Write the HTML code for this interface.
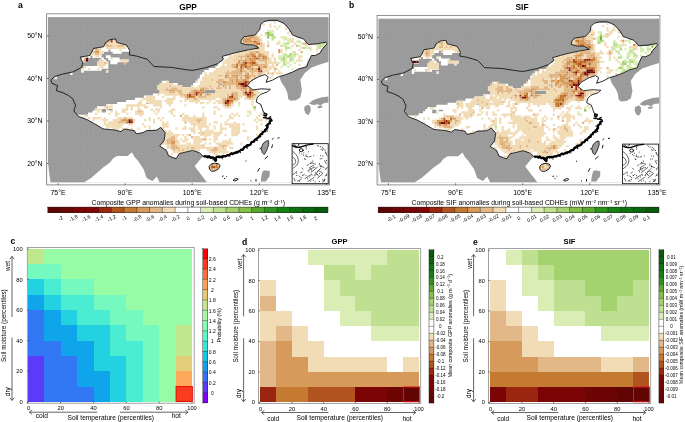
<!DOCTYPE html>
<html><head><meta charset="utf-8"><title>Figure</title>
<style>html,body{margin:0;padding:0;background:#fff;}body{width:685px;height:422px;overflow:hidden;font-family:"Liberation Sans",sans-serif;}svg{display:block;position:absolute;left:0;top:0;will-change:transform;transform:translateZ(0);}</style>
</head><body>
<svg width="685" height="422" viewBox="0 0 685 422" font-family="Liberation Sans, sans-serif" fill="#000">
<defs>
<pattern id="hat" x="47.90" y="17.10" width="4.472" height="4.250" patternUnits="userSpaceOnUse">
<rect width="5" height="5" fill="#9a9a9a"/><path d="M0 0H5M0 0V5" stroke="#a3a3a3" stroke-width="0.6" fill="none"/></pattern>
<clipPath id="cc"><polygon points="50.9,80.1 54.2,76.8 61.9,74.2 72.8,72.0 81.6,67.4 82.7,62.5 80.1,57.1 89.9,55.5 93.6,48.3 103.5,46.8 105.7,42.4 110.1,39.6 115.5,38.9 116.6,42.4 126.5,45.0 129.8,50.5 129.3,54.9 136.3,56.0 147.3,59.3 153.9,66.5 171.4,67.4 182.3,69.1 190.0,70.2 193.8,70.2 206.9,67.4 217.8,63.6 223.3,59.3 222.2,56.4 235.4,52.7 248.5,49.8 258.9,48.0 253.5,44.9 245.6,44.6 240.6,43.0 241.5,39.5 244.1,36.7 255.0,35.1 259.7,29.6 260.5,25.0 263.6,21.8 269.1,20.3 276.9,20.3 284.0,23.4 289.5,29.6 292.6,35.1 303.6,39.0 308.2,44.5 317.6,43.7 326.2,42.2 327.0,43.7 322.3,49.2 320.0,53.1 315.3,55.5 311.4,55.5 308.2,62.5 306.7,66.8 298.9,68.8 292.6,72.0 284.8,75.0 279.2,76.5 272.6,80.1 266.0,82.3 268.2,76.8 264.9,74.6 258.4,76.8 250.7,81.2 247.4,85.5 252.9,89.9 261.6,88.8 270.4,89.3 267.1,92.1 260.5,94.3 257.3,97.6 256.2,102.0 260.8,104.4 263.5,112.0 266.0,114.5 265.0,117.0 270.8,119.6 270.2,121.4 266.5,128.0 262.0,133.5 258.0,137.3 253.5,141.2 248.0,145.8 240.4,150.4 232.7,153.5 225.0,155.8 216.6,157.4 215.5,161.3 213.4,157.4 203.5,156.5 199.1,152.6 192.6,150.4 179.4,153.6 176.1,158.7 168.5,155.8 166.3,150.4 159.7,146.0 164.1,140.5 165.2,132.8 160.8,127.4 156.4,130.2 146.6,130.7 142.9,132.7 136.3,133.8 134.2,130.5 124.3,129.0 121.0,131.6 114.4,129.9 103.5,129.0 94.7,123.9 87.1,119.6 78.3,116.3 73.9,110.8 75.5,105.3 72.8,98.8 68.5,95.5 63.0,92.8 56.4,90.6 57.5,85.5 52.0,83.4"/><polygon points="209.2,166.5 211.0,164.2 214.5,163.2 218.6,163.8 220.0,165.8 218.5,168.8 215.0,171.0 211.5,171.2 209.5,169.3"/></clipPath>
<clipPath id="fr"><rect x="47.9" y="17.1" width="280.7" height="165.3"/></clipPath>
<g id="geo">
<rect x="46.6" y="13.8" width="282.8" height="171.1" fill="#fff" stroke="#7d7d7d" stroke-width="0.85"/>
<rect x="47.9" y="17.1" width="280.7" height="165.3" fill="url(#hat)"/>
<g fill="#fff">
<polygon points="279.2,76.5 281.2,82.0 285.7,88.8 287.5,93.3 288.2,99.0 290.4,100.7 296.0,100.3 300.3,97.6 301.9,90.0 300.3,79.8 304.8,73.0 311.6,67.4 318.3,65.1 328.6,61.8 328.6,182.4 207.0,182.4 199.1,172.1 194.7,166.3 200.6,159.0 203.5,156.5 213.4,157.4 215.5,161.3 216.6,157.4 225.0,155.8 232.7,153.5 240.4,150.4 248.0,145.8 253.5,141.2 258.0,137.3 262.0,133.5 266.5,128.0 270.2,121.4 270.8,119.6 265.0,117.0 266.0,114.5 263.5,112.0 260.8,104.4 256.2,102.0 257.3,97.6 260.5,94.3 267.1,92.1 270.4,89.3 261.6,88.8 252.9,89.9 247.4,85.5 250.7,81.2 258.4,76.8 264.9,74.6 268.2,76.8 266.0,82.3 272.6,80.1"/>
<polygon points="83.8,182.4 91.1,178.0 102.8,167.7 110.0,162.5 113.0,158.4 117.0,156.0 127.6,156.0 132.0,152.3 134.5,157.0 137.8,160.4 143.6,169.2 146.6,178.0 152.4,181.0 156.8,176.5 159.7,182.4"/>
<polygon points="47.9,160.0 49.0,172.0 50.6,182.4 47.9,182.4"/>
</g>
<g fill="#9a9a9a" clip-path="url(#fr)">
<polygon points="309.0,103.6 312.5,100.5 316.0,99.0 322.0,97.2 328.6,96.4 328.6,102.6 323.5,103.2 320.5,105.6 317.5,104.2 314.0,105.0 311.5,104.4"/>
<polygon points="304.6,106.2 308.4,104.8 310.4,106.5 310.8,110.8 308.4,115.2 305.6,113.6 304.2,109.6"/>
<polygon points="317.3,106.3 322.0,105.6 322.4,107.6 318.2,108.4"/>
<polygon points="262.6,171.2 265.0,170.2 269.8,171.0 269.6,176.4 267.4,179.0 266.0,181.4 260.6,181.4 261.4,176.0"/>
<polygon points="266.3,140.9 268.5,140.7 268.7,144.5 266.5,150.8 264.2,154.6 262.3,152.6 261.2,148.3 263.0,143.6" stroke="#111" stroke-width="0.8"/>
</g>
</g>
<g id="line" fill="none" stroke="#000" stroke-linejoin="round">
<polygon points="50.9,80.1 54.2,76.8 61.9,74.2 72.8,72.0 81.6,67.4 82.7,62.5 80.1,57.1 89.9,55.5 93.6,48.3 103.5,46.8 105.7,42.4 110.1,39.6 115.5,38.9 116.6,42.4 126.5,45.0 129.8,50.5 129.3,54.9 136.3,56.0 147.3,59.3 153.9,66.5 171.4,67.4 182.3,69.1 190.0,70.2 193.8,70.2 206.9,67.4 217.8,63.6 223.3,59.3 222.2,56.4 235.4,52.7 248.5,49.8 258.9,48.0 253.5,44.9 245.6,44.6 240.6,43.0 241.5,39.5 244.1,36.7 255.0,35.1 259.7,29.6 260.5,25.0 263.6,21.8 269.1,20.3 276.9,20.3 284.0,23.4 289.5,29.6 292.6,35.1 303.6,39.0 308.2,44.5 317.6,43.7 326.2,42.2 327.0,43.7 322.3,49.2 320.0,53.1 315.3,55.5 311.4,55.5 308.2,62.5 306.7,66.8 298.9,68.8 292.6,72.0 284.8,75.0 279.2,76.5 272.6,80.1 266.0,82.3 268.2,76.8 264.9,74.6 258.4,76.8 250.7,81.2 247.4,85.5 252.9,89.9 261.6,88.8 270.4,89.3 267.1,92.1 260.5,94.3 257.3,97.6 256.2,102.0 260.8,104.4 263.5,112.0 266.0,114.5 265.0,117.0 270.8,119.6 270.2,121.4 266.5,128.0 262.0,133.5 258.0,137.3 253.5,141.2 248.0,145.8 240.4,150.4 232.7,153.5 225.0,155.8 216.6,157.4 215.5,161.3 213.4,157.4 203.5,156.5 199.1,152.6 192.6,150.4 179.4,153.6 176.1,158.7 168.5,155.8 166.3,150.4 159.7,146.0 164.1,140.5 165.2,132.8 160.8,127.4 156.4,130.2 146.6,130.7 142.9,132.7 136.3,133.8 134.2,130.5 124.3,129.0 121.0,131.6 114.4,129.9 103.5,129.0 94.7,123.9 87.1,119.6 78.3,116.3 73.9,110.8 75.5,105.3 72.8,98.8 68.5,95.5 63.0,92.8 56.4,90.6 57.5,85.5 52.0,83.4" stroke-width="0.78"/>
<polygon points="209.2,166.5 211.0,164.2 214.5,163.2 218.6,163.8 220.0,165.8 218.5,168.8 215.0,171.0 211.5,171.2 209.5,169.3" stroke-width="0.9"/>
<path d="M270.5 120.6 L269.7 121.5 L269.8 122.9 L268.8 123.8 L267.6 124.5 L267.0 125.5 L267.7 127.3 L266.9 128.4 L266.4 129.5 L265.1 129.9 L264.9 131.3 L263.6 131.7 L262.5 132.4 L262.3 133.8 L261.0 134.0 L260.3 134.9 L260.2 136.4 L258.7 136.5 L258.3 137.6 L257.2 138.2 L256.5 139.2 L255.1 139.4 L254.5 140.5 L253.9 141.7 L252.5 141.9 L251.3 142.3 L251.0 143.8 L250.2 144.7 L249.1 145.2 L247.6 145.1 L246.6 145.6 L245.9 146.7 L244.8 146.9 L243.9 147.5 L243.4 148.9 L242.7 149.9 L241.2 149.6 L240.4 150.3 L239.4 151.1 L238.4 151.8 L237.2 151.9 L236.0 152.2 L235.1 153.0 L233.9 153.4 L232.7 153.6 L231.4 153.2 L230.5 154.0 L229.5 154.9 L228.4 155.2 L227.2 155.2 L226.3 156.0 L225.1 156.4 L223.8 156.0 L222.7 157.0 L221.4 156.5 L220.2 157.0 L218.9 156.6 L217.7 156.7 L216.3 157.3 L215.9 158.5 L216.1 159.9 L215.8 160.9 L214.6 159.9 L214.4 158.5 L213.6 157.7 L212.5 157.4 L211.3 158.0 L210.2 157.6 L209.2 156.1 L207.9 157.4 L206.9 156.4 L205.8 156.4 L204.7 156.2 L203.5 156.5" stroke-width="2.2"/>
<path d="M270.8 124.0l-0.6 -0.4M265.9 126.0l-0.6 -0.4M266.9 130.9l0.6 0.2M248.2 146.3l-0.4 -0.3M240.3 152.4l-0.0 0.4M237.2 153.6l-0.1 -0.3M232.4 154.7l0.5 0.1M229.9 156.0l-0.6 -0.3M222.2 158.4l0.2 0.5M219.1 158.0l-0.6 -0.4M214.0 158.8l0.5 -0.3M213.4 159.1l-0.6 0.4" stroke-width="1.0" stroke-linecap="round"/>
<path d="M270.6 120.6 L266.5 128.0 L262.0 133.5 L258.0 137.3 L253.5 141.2 L248.0 145.8 L240.4 150.4 L232.7 153.5 L225.0 155.8 L216.6 157.4 L215.5 161.0 L213.6 157.4 L203.5 156.5" stroke-width="1.1"/>
<path d="M264.3 113.2l2.6 .8l-.6 2l-2.4 -.6zM263 117.6l3.4 .4M266.5 118.6l4.6 .2l1 1.8l-2.2 1.4M268.6 117.8l2.6 -1.2M264.5 131.2l1.6 .5M256 139.6l1.6 1M246.6 147l1 1.6M236 152.4l.6 1.4M228.6 155l.4 1.5M221 156.8l-.3 1.4" stroke-width="1.3"/>
<path d="M259.5 149l1.6 -1M272 139.5l1.6 -1.4M277.5 138.2l2 -.5M272.6 144.5l-1 3.6M268 156l-3.4 3M245.5 161h1M259.6 168l-2 3.6M256 181.5v-2.5M251 181.4v-1M222 176.4l1.6 -.5M224 178.2l1 .6M226 176l.8 .6M233 180.3c1.5 -1.6 4 -2.2 5.2 -1.3c-.6 1.6 -3.4 2.6 -5.2 1.3z" stroke-width="0.9"/>
</g>
<g id="inset">
<rect x="292.1" y="143.7" width="36.1" height="40.0" fill="#fff" stroke="#000" stroke-width="0.8"/>
<g fill="none" stroke="#000" stroke-width="0.6" stroke-linecap="round">
<path d="M292.6 145.6c2.4 1.6 5 2.2 8 1.4s5 -2 8.4 -2.4l4 -.6" stroke-width="1.3"/>
<path d="M294 144.6l3 2.4M299 144.2l-1 1.6" stroke-width="0.9"/>
<ellipse cx="301.2" cy="150.2" rx="1.9" ry="1.6" stroke-width="0.9"/>
<path d="M292.8 151.5c2.6 1.6 4.8 4.4 5.4 7.6s-.6 5.4 -2.6 7.2l-2.8 2.2M292.8 157c1.6 1 2.8 2.6 2.9 4.4s-1.2 3 -2.9 3.6M296.5 171.5c-1 1.2 -2 2.4 -3.6 3M294 178.4l1.2 2.6M309.6 167.5l4 -2.2M308 170.5l5.6 -3M311 172.4l6.4 -5.2M314.5 175l6 -6.6M305 178.5l6.6 -4.4M308 181.4l6 -4M317.6 178l5 -4.2M318.6 170.5l4 2.6M315 172.5l3.4 3.2M320.4 166l3.6 1.4M324.6 160.5l1.6 3M325.6 152l1.4 3.4M322 147l2 2.6M317.2 145.4l1.6 1M305.5 156l1.5 .6M309.4 156.8l1.6 -.5M304.5 158.5l.8 .9M310 163.6l2 -.4M307 165.5l1.5 -1M312.6 162.8l1.5 .9M302 168l1 1.2M300.5 172.8l1.6 -.8M299 176l1.4 1M303 175.4l1.4 -1.2M297.5 181l2 -.8M322.6 181.8l2.6 -2M325.4 176l1.4 -2.2M326 169l1.2 -1.6"/>
<path d="M301.3 177.8h.01M300.8 179.5h.01M310.1 168.3h.01M319.3 164.9h.01M303.8 152.9h.01M296.7 173.0h.01M308.6 151.8h.01M323.0 156.0h.01M307.7 156.8h.01M314.8 167.2h.01M313.8 155.7h.01M303.4 155.3h.01M299.5 181.2h.01M325.7 152.9h.01M317.1 174.5h.01M315.1 182.0h.01M302.6 175.3h.01M322.7 179.7h.01M326.4 160.6h.01M320.9 165.9h.01M319.4 163.7h.01M325.8 169.1h.01M320.9 166.7h.01M315.0 175.6h.01M324.6 179.3h.01M321.2 149.4h.01M305.9 147.3h.01M312.0 175.1h.01M306.1 154.9h.01M320.2 158.9h.01M315.1 164.0h.01M313.3 180.3h.01M325.1 150.1h.01M321.8 158.6h.01M310.8 181.1h.01M306.3 146.5h.01M322.4 150.1h.01M309.8 177.0h.01M311.0 162.3h.01M320.4 146.7h.01M312.9 161.0h.01M326.5 175.3h.01M308.9 171.7h.01M305.0 159.1h.01M324.4 180.8h.01M307.5 178.8h.01M311.4 170.1h.01M323.5 181.2h.01M319.4 173.7h.01M317.4 171.6h.01M319.3 181.6h.01M306.3 149.0h.01M301.9 154.1h.01M306.0 175.6h.01M320.8 155.6h.01M296.8 175.5h.01M299.6 153.1h.01" stroke-width="0.9"/>
</g></g>
<g id="mtick" stroke="#333" stroke-width="0.7" fill="none">
<path d="M46.8 36.0h1.8M46.8 78.5h1.8M46.8 121.0h1.8M46.8 163.5h1.8M58.0 184.9v-1.6M125.1 184.9v-1.6M192.2 184.9v-1.6M259.3 184.9v-1.6M326.4 184.9v-1.6"/>
</g>
</defs>
<g id="mapA">
<use href="#geo"/>
<g clip-path="url(#cc)">
<path fill="#fff" d="M262.5 21.2h20.3v2.73h-20.3zM260.2 23.4h24.8v2.73h-24.8zM260.2 25.5h27.0v2.73h-27.0zM260.2 27.6h29.3v2.73h-29.3zM258.0 29.8h31.5v2.73h-31.5zM255.7 31.9h36.0v2.73h-36.0zM253.5 34.0h40.4v2.73h-40.4zM244.6 36.1h53.9v2.73h-53.9zM110.4 38.2h4.7v2.73h-4.7zM242.3 38.2h62.8v2.73h-62.8zM105.9 40.4h11.4v2.73h-11.4zM240.1 40.4h65.0v2.73h-65.0zM105.9 42.5h15.9v2.73h-15.9zM242.3 42.5h65.0v2.73h-65.0zM318.4 42.5h9.1v2.73h-9.1zM103.7 44.6h22.6v2.73h-22.6zM255.7 44.6h69.5v2.73h-69.5zM97.0 46.8h31.5v2.73h-31.5zM258.0 46.8h65.0v2.73h-65.0zM92.5 48.9h15.9v2.73h-15.9zM110.4 48.9h20.3v2.73h-20.3zM246.8 48.9h74.0v2.73h-74.0zM92.5 51.0h11.4v2.73h-11.4zM112.6 51.0h9.1v2.73h-9.1zM237.9 51.0h82.9v2.73h-82.9zM90.3 53.1h11.4v2.73h-11.4zM228.9 53.1h89.6v2.73h-89.6zM83.6 55.2h6.9v2.73h-6.9zM92.5 55.2h9.1v2.73h-9.1zM105.9 55.2h4.7v2.73h-4.7zM222.2 55.2h89.6v2.73h-89.6zM81.3 57.4h6.9v2.73h-6.9zM101.5 57.4h2.4v2.73h-2.4zM108.2 57.4h11.4v2.73h-11.4zM222.2 57.4h87.4v2.73h-87.4zM81.3 59.5h6.9v2.73h-6.9zM99.2 59.5h6.9v2.73h-6.9zM110.4 59.5h18.1v2.73h-18.1zM222.2 59.5h87.4v2.73h-87.4zM97.0 61.6h11.4v2.73h-11.4zM110.4 61.6h6.9v2.73h-6.9zM123.8 61.6h2.4v2.73h-2.4zM217.7 61.6h89.6v2.73h-89.6zM97.0 63.8h11.4v2.73h-11.4zM217.7 63.8h89.6v2.73h-89.6zM83.6 65.9h24.8v2.73h-24.8zM215.5 65.9h89.6v2.73h-89.6zM81.3 68.0h20.3v2.73h-20.3zM208.8 68.0h89.6v2.73h-89.6zM81.3 70.1h2.4v2.73h-2.4zM105.9 70.1h2.4v2.73h-2.4zM204.3 70.1h89.6v2.73h-89.6zM70.2 72.2h2.4v2.73h-2.4zM202.1 72.2h87.4v2.73h-87.4zM199.8 74.4h62.8v2.73h-62.8zM266.9 74.4h15.9v2.73h-15.9zM54.5 76.5h2.4v2.73h-2.4zM199.8 76.5h56.1v2.73h-56.1zM266.9 76.5h9.1v2.73h-9.1zM197.6 78.6h56.1v2.73h-56.1zM266.9 78.6h6.9v2.73h-6.9zM161.8 80.8h6.9v2.73h-6.9zM195.4 80.8h53.9v2.73h-53.9zM159.6 82.9h18.1v2.73h-18.1zM193.1 82.9h27.0v2.73h-27.0zM222.2 82.9h27.0v2.73h-27.0zM157.4 85.0h24.8v2.73h-24.8zM190.9 85.0h58.3v2.73h-58.3zM157.4 87.1h94.1v2.73h-94.1zM159.6 89.2h44.9v2.73h-44.9zM215.5 89.2h53.9v2.73h-53.9zM159.6 91.4h44.9v2.73h-44.9zM215.5 91.4h49.4v2.73h-49.4zM152.9 93.5h107.5v2.73h-107.5zM143.9 95.6h114.2v2.73h-114.2zM135.0 97.8h123.2v2.73h-123.2zM126.1 99.9h129.9v2.73h-129.9zM117.1 102.0h29.3v2.73h-29.3zM148.4 102.0h109.8v2.73h-109.8zM105.9 104.1h154.5v2.73h-154.5zM97.0 106.2h165.7v2.73h-165.7zM94.8 108.4h6.9v2.73h-6.9zM105.9 108.4h2.4v2.73h-2.4zM112.6 108.4h150.0v2.73h-150.0zM92.5 110.5h9.1v2.73h-9.1zM105.9 110.5h156.7v2.73h-156.7zM88.0 112.6h176.8v2.73h-176.8zM76.9 114.8h188.0v2.73h-188.0zM83.6 116.9h183.6v2.73h-183.6zM88.0 119.0h183.6v2.73h-183.6zM92.5 121.1h176.8v2.73h-176.8zM94.8 123.2h174.6v2.73h-174.6zM99.2 125.4h167.9v2.73h-167.9zM103.7 127.5h56.1v2.73h-56.1zM161.8 127.5h105.3v2.73h-105.3zM117.1 129.6h4.7v2.73h-4.7zM135.0 129.6h11.4v2.73h-11.4zM164.1 129.6h100.8v2.73h-100.8zM135.0 131.8h6.9v2.73h-6.9zM164.1 131.8h98.6v2.73h-98.6zM164.1 133.9h96.3v2.73h-96.3zM164.1 136.0h94.1v2.73h-94.1zM164.1 138.1h91.9v2.73h-91.9zM164.1 140.2h89.6v2.73h-89.6zM161.8 142.4h89.6v2.73h-89.6zM159.6 144.5h89.6v2.73h-89.6zM161.8 146.6h82.9v2.73h-82.9zM166.3 148.8h74.0v2.73h-74.0zM166.3 150.9h20.3v2.73h-20.3zM197.6 150.9h38.2v2.73h-38.2zM168.5 153.0h11.4v2.73h-11.4zM199.8 153.0h31.5v2.73h-31.5zM170.8 155.1h6.9v2.73h-6.9zM202.1 155.1h20.3v2.73h-20.3zM213.3 157.2h2.4v2.73h-2.4zM211.0 163.6h9.1v2.73h-9.1zM208.8 165.8h11.4v2.73h-11.4zM208.8 167.9h9.1v2.73h-9.1z"/>
<path fill="#610404" d="M85.91 57.48h2.24v2.25h-2.24zM85.91 59.60h2.24v2.25h-2.24zM258.08 68.10h2.24v2.25h-2.24zM128.40 119.10h2.24v2.25h-2.24zM128.40 121.22h2.24v2.25h-2.24z"/>
<path fill="#6d0505" d="M240.20 82.97h4.47v2.25h-4.47zM244.67 85.10h2.24v2.25h-2.24zM249.14 91.47h2.24v2.25h-2.24z"/>
<path fill="#7b0404" d="M246.90 93.60h2.24v2.25h-2.24zM130.63 121.22h2.24v2.25h-2.24z"/>
<path fill="#840505" d="M110.51 38.35h2.24v2.25h-2.24zM244.67 91.47h2.24v2.25h-2.24zM195.48 93.60h2.24v2.25h-2.24zM226.78 99.97h2.24v2.25h-2.24zM224.54 102.10h2.24v2.25h-2.24z"/>
<path fill="#9a2610" d="M110.51 40.48h2.24v2.25h-2.24zM244.67 61.73h2.24v2.25h-2.24zM260.32 70.22h2.24v2.25h-2.24zM244.67 80.85h2.24v2.25h-2.24zM244.67 82.97h2.24v2.25h-2.24zM242.43 85.10h2.24v2.25h-2.24zM195.48 91.47h2.24v2.25h-2.24zM249.14 93.60h2.24v2.25h-2.24zM231.25 95.72h2.24v2.25h-2.24z"/>
<path fill="#b1541f" d="M253.61 40.48h2.24v2.25h-2.24zM258.08 42.60h2.24v2.25h-2.24zM253.61 55.35h2.24v2.25h-2.24zM255.85 57.48h2.24v2.25h-2.24zM251.38 61.73h4.47v2.25h-4.47zM240.20 65.97h2.24v2.25h-2.24zM244.67 65.97h2.24v2.25h-2.24zM258.08 70.22h2.24v2.25h-2.24zM237.96 82.97h2.24v2.25h-2.24zM249.14 89.35h2.24v2.25h-2.24zM197.71 91.47h2.24v2.25h-2.24zM251.38 91.47h2.24v2.25h-2.24zM188.77 93.60h2.24v2.25h-2.24zM231.25 93.60h2.24v2.25h-2.24zM188.77 95.72h2.24v2.25h-2.24zM229.02 95.72h2.24v2.25h-2.24zM224.54 99.97h2.24v2.25h-2.24zM226.78 102.10h2.24v2.25h-2.24zM130.63 119.10h2.24v2.25h-2.24zM211.13 165.85h4.47v2.25h-4.47z"/>
<path fill="#c57a32" d="M246.90 38.35h2.24v2.25h-2.24zM244.67 40.48h2.24v2.25h-2.24zM255.85 42.60h2.24v2.25h-2.24zM251.38 53.23h2.24v2.25h-2.24zM246.90 55.35h2.24v2.25h-2.24zM251.38 55.35h2.24v2.25h-2.24zM262.56 55.35h2.24v2.25h-2.24zM249.14 57.48h2.24v2.25h-2.24zM253.61 57.48h2.24v2.25h-2.24zM262.56 57.48h2.24v2.25h-2.24zM251.38 59.60h2.24v2.25h-2.24zM242.43 61.73h2.24v2.25h-2.24zM249.14 61.73h2.24v2.25h-2.24zM235.72 63.85h2.24v2.25h-2.24zM240.20 63.85h6.71v2.25h-6.71zM251.38 63.85h2.24v2.25h-2.24zM235.72 65.97h2.24v2.25h-2.24zM258.08 65.97h2.24v2.25h-2.24zM240.20 68.10h2.24v2.25h-2.24zM251.38 68.10h2.24v2.25h-2.24zM240.20 70.22h2.24v2.25h-2.24zM244.67 74.47h2.24v2.25h-2.24zM246.90 76.60h2.24v2.25h-2.24zM242.43 80.85h2.24v2.25h-2.24zM246.90 80.85h2.24v2.25h-2.24zM240.20 85.10h2.24v2.25h-2.24zM246.90 85.10h2.24v2.25h-2.24zM242.43 87.22h2.24v2.25h-2.24zM199.95 89.35h2.24v2.25h-2.24zM202.18 91.47h2.24v2.25h-2.24zM246.90 91.47h2.24v2.25h-2.24zM186.53 93.60h2.24v2.25h-2.24zM199.95 93.60h2.24v2.25h-2.24zM244.67 93.60h2.24v2.25h-2.24zM186.53 95.72h2.24v2.25h-2.24zM191.00 95.72h4.47v2.25h-4.47zM246.90 95.72h4.47v2.25h-4.47zM233.49 97.85h2.24v2.25h-2.24zM229.02 99.97h4.47v2.25h-4.47zM226.78 104.22h2.24v2.25h-2.24zM126.16 121.22h2.24v2.25h-2.24zM215.60 163.72h2.24v2.25h-2.24zM215.60 165.85h2.24v2.25h-2.24z"/>
<path fill="#d69a5a" d="M249.14 36.23h6.71v2.25h-6.71zM242.43 38.35h4.47v2.25h-4.47zM249.14 38.35h2.24v2.25h-2.24zM242.43 40.48h2.24v2.25h-2.24zM246.90 40.48h6.71v2.25h-6.71zM255.85 40.48h2.24v2.25h-2.24zM253.61 42.60h2.24v2.25h-2.24zM255.85 44.73h2.24v2.25h-2.24zM278.21 48.98h2.24v2.25h-2.24zM94.86 51.10h4.47v2.25h-4.47zM255.85 51.10h2.24v2.25h-2.24zM278.21 51.10h2.24v2.25h-2.24zM249.14 53.23h2.24v2.25h-2.24zM253.61 53.23h2.24v2.25h-2.24zM258.08 53.23h4.47v2.25h-4.47zM258.08 55.35h4.47v2.25h-4.47zM264.79 55.35h2.24v2.25h-2.24zM251.38 57.48h2.24v2.25h-2.24zM258.08 57.48h2.24v2.25h-2.24zM264.79 57.48h2.24v2.25h-2.24zM83.68 59.60h2.24v2.25h-2.24zM237.96 59.60h2.24v2.25h-2.24zM242.43 59.60h4.47v2.25h-4.47zM249.14 59.60h2.24v2.25h-2.24zM253.61 59.60h2.24v2.25h-2.24zM237.96 61.73h2.24v2.25h-2.24zM246.90 61.73h2.24v2.25h-2.24zM249.14 63.85h2.24v2.25h-2.24zM253.61 63.85h4.47v2.25h-4.47zM233.49 65.97h2.24v2.25h-2.24zM242.43 65.97h2.24v2.25h-2.24zM246.90 65.97h4.47v2.25h-4.47zM262.56 65.97h4.47v2.25h-4.47zM246.90 68.10h2.24v2.25h-2.24zM255.85 68.10h2.24v2.25h-2.24zM260.32 68.10h2.24v2.25h-2.24zM240.20 72.35h2.24v2.25h-2.24zM246.90 72.35h2.24v2.25h-2.24zM251.38 72.35h2.24v2.25h-2.24zM224.54 74.47h4.47v2.25h-4.47zM231.25 74.47h6.71v2.25h-6.71zM246.90 74.47h2.24v2.25h-2.24zM224.54 76.60h2.24v2.25h-2.24zM235.72 76.60h2.24v2.25h-2.24zM240.20 76.60h2.24v2.25h-2.24zM244.67 76.60h2.24v2.25h-2.24zM231.25 78.72h2.24v2.25h-2.24zM235.72 78.72h2.24v2.25h-2.24zM242.43 78.72h4.47v2.25h-4.47zM222.31 80.85h4.47v2.25h-4.47zM231.25 80.85h2.24v2.25h-2.24zM235.72 80.85h6.71v2.25h-6.71zM246.90 82.97h2.24v2.25h-2.24zM222.31 85.10h2.24v2.25h-2.24zM235.72 85.10h2.24v2.25h-2.24zM202.18 87.22h2.24v2.25h-2.24zM240.20 87.22h2.24v2.25h-2.24zM244.67 87.22h2.24v2.25h-2.24zM249.14 87.22h2.24v2.25h-2.24zM168.64 89.35h2.24v2.25h-2.24zM173.12 89.35h2.24v2.25h-2.24zM193.24 89.35h4.47v2.25h-4.47zM202.18 89.35h2.24v2.25h-2.24zM244.67 89.35h2.24v2.25h-2.24zM251.38 89.35h2.24v2.25h-2.24zM193.24 91.47h2.24v2.25h-2.24zM199.95 91.47h2.24v2.25h-2.24zM242.43 91.47h2.24v2.25h-2.24zM191.00 93.60h4.47v2.25h-4.47zM206.66 93.60h2.24v2.25h-2.24zM251.38 93.60h4.47v2.25h-4.47zM251.38 95.72h2.24v2.25h-2.24zM226.78 97.85h6.71v2.25h-6.71zM229.02 102.10h2.24v2.25h-2.24zM224.54 104.22h2.24v2.25h-2.24zM121.69 119.10h6.71v2.25h-6.71zM166.41 140.35h2.24v2.25h-2.24zM170.88 140.35h4.47v2.25h-4.47zM170.88 142.47h4.47v2.25h-4.47zM175.35 146.72h2.24v2.25h-2.24zM211.13 163.72h2.24v2.25h-2.24zM211.13 167.97h2.24v2.25h-2.24z"/>
<path fill="#e3b888" d="M244.67 36.23h4.47v2.25h-4.47zM255.85 36.23h2.24v2.25h-2.24zM251.38 38.35h8.94v2.25h-8.94zM106.04 40.48h4.47v2.25h-4.47zM258.08 40.48h2.24v2.25h-2.24zM106.04 42.60h2.24v2.25h-2.24zM242.43 42.60h11.18v2.25h-11.18zM260.32 42.60h2.24v2.25h-2.24zM302.80 42.60h4.47v2.25h-4.47zM106.04 44.73h6.71v2.25h-6.71zM117.22 44.73h6.71v2.25h-6.71zM260.32 44.73h2.24v2.25h-2.24zM267.03 44.73h2.24v2.25h-2.24zM296.10 44.73h2.24v2.25h-2.24zM94.86 48.98h4.47v2.25h-4.47zM92.62 51.10h2.24v2.25h-2.24zM249.14 51.10h6.71v2.25h-6.71zM258.08 51.10h2.24v2.25h-2.24zM300.57 51.10h2.24v2.25h-2.24zM94.86 53.23h4.47v2.25h-4.47zM244.67 53.23h4.47v2.25h-4.47zM262.56 53.23h2.24v2.25h-2.24zM237.96 55.35h8.94v2.25h-8.94zM249.14 55.35h2.24v2.25h-2.24zM255.85 55.35h2.24v2.25h-2.24zM83.68 57.48h2.24v2.25h-2.24zM235.72 57.48h2.24v2.25h-2.24zM240.20 57.48h2.24v2.25h-2.24zM244.67 57.48h4.47v2.25h-4.47zM260.32 57.48h2.24v2.25h-2.24zM267.03 57.48h2.24v2.25h-2.24zM233.49 59.60h2.24v2.25h-2.24zM240.20 59.60h2.24v2.25h-2.24zM246.90 59.60h2.24v2.25h-2.24zM258.08 59.60h8.94v2.25h-8.94zM103.80 61.73h2.24v2.25h-2.24zM123.92 61.73h2.24v2.25h-2.24zM235.72 61.73h2.24v2.25h-2.24zM240.20 61.73h2.24v2.25h-2.24zM255.85 61.73h2.24v2.25h-2.24zM264.79 61.73h2.24v2.25h-2.24zM231.25 63.85h4.47v2.25h-4.47zM237.96 63.85h2.24v2.25h-2.24zM246.90 63.85h2.24v2.25h-2.24zM258.08 63.85h8.94v2.25h-8.94zM275.97 63.85h2.24v2.25h-2.24zM231.25 65.97h2.24v2.25h-2.24zM251.38 65.97h2.24v2.25h-2.24zM260.32 65.97h2.24v2.25h-2.24zM235.72 68.10h4.47v2.25h-4.47zM242.43 68.10h2.24v2.25h-2.24zM249.14 68.10h2.24v2.25h-2.24zM253.61 68.10h2.24v2.25h-2.24zM273.74 68.10h2.24v2.25h-2.24zM226.78 70.22h2.24v2.25h-2.24zM231.25 70.22h8.94v2.25h-8.94zM242.43 70.22h4.47v2.25h-4.47zM249.14 70.22h8.94v2.25h-8.94zM224.54 72.35h15.65v2.25h-15.65zM244.67 72.35h2.24v2.25h-2.24zM258.08 72.35h4.47v2.25h-4.47zM267.03 72.35h2.24v2.25h-2.24zM271.50 72.35h2.24v2.25h-2.24zM217.84 74.47h4.47v2.25h-4.47zM237.96 74.47h6.71v2.25h-6.71zM249.14 74.47h6.71v2.25h-6.71zM258.08 74.47h2.24v2.25h-2.24zM226.78 76.60h8.94v2.25h-8.94zM249.14 76.60h2.24v2.25h-2.24zM253.61 76.60h2.24v2.25h-2.24zM211.13 78.72h2.24v2.25h-2.24zM217.84 78.72h6.71v2.25h-6.71zM229.02 78.72h2.24v2.25h-2.24zM233.49 78.72h2.24v2.25h-2.24zM237.96 78.72h4.47v2.25h-4.47zM246.90 78.72h2.24v2.25h-2.24zM251.38 78.72h2.24v2.25h-2.24zM215.60 80.85h6.71v2.25h-6.71zM226.78 80.85h4.47v2.25h-4.47zM233.49 80.85h2.24v2.25h-2.24zM217.84 82.97h2.24v2.25h-2.24zM222.31 82.97h15.65v2.25h-15.65zM168.64 85.10h2.24v2.25h-2.24zM208.89 85.10h2.24v2.25h-2.24zM217.84 85.10h2.24v2.25h-2.24zM224.54 85.10h2.24v2.25h-2.24zM229.02 85.10h2.24v2.25h-2.24zM237.96 85.10h2.24v2.25h-2.24zM166.41 87.22h2.24v2.25h-2.24zM170.88 87.22h6.71v2.25h-6.71zM199.95 87.22h2.24v2.25h-2.24zM204.42 87.22h4.47v2.25h-4.47zM211.13 87.22h2.24v2.25h-2.24zM215.60 87.22h6.71v2.25h-6.71zM224.54 87.22h2.24v2.25h-2.24zM229.02 87.22h2.24v2.25h-2.24zM235.72 87.22h4.47v2.25h-4.47zM246.90 87.22h2.24v2.25h-2.24zM164.17 89.35h4.47v2.25h-4.47zM170.88 89.35h2.24v2.25h-2.24zM175.35 89.35h6.71v2.25h-6.71zM191.00 89.35h2.24v2.25h-2.24zM197.71 89.35h2.24v2.25h-2.24zM240.20 89.35h4.47v2.25h-4.47zM253.61 89.35h2.24v2.25h-2.24zM168.64 91.47h6.71v2.25h-6.71zM177.59 91.47h4.47v2.25h-4.47zM188.77 91.47h4.47v2.25h-4.47zM231.25 91.47h6.71v2.25h-6.71zM179.82 93.60h6.71v2.25h-6.71zM197.71 93.60h2.24v2.25h-2.24zM204.42 93.60h2.24v2.25h-2.24zM208.89 93.60h2.24v2.25h-2.24zM226.78 93.60h2.24v2.25h-2.24zM233.49 93.60h4.47v2.25h-4.47zM242.43 93.60h2.24v2.25h-2.24zM184.30 95.72h2.24v2.25h-2.24zM197.71 95.72h8.94v2.25h-8.94zM226.78 95.72h2.24v2.25h-2.24zM233.49 95.72h4.47v2.25h-4.47zM186.53 97.85h2.24v2.25h-2.24zM193.24 97.85h4.47v2.25h-4.47zM222.31 97.85h4.47v2.25h-4.47zM235.72 97.85h2.24v2.25h-2.24zM249.14 97.85h2.24v2.25h-2.24zM222.31 99.97h2.24v2.25h-2.24zM222.31 102.10h2.24v2.25h-2.24zM231.25 102.10h2.24v2.25h-2.24zM229.02 104.22h2.24v2.25h-2.24zM106.04 106.35h2.24v2.25h-2.24zM137.34 110.60h4.47v2.25h-4.47zM179.82 114.85h2.24v2.25h-2.24zM123.92 116.97h2.24v2.25h-2.24zM119.45 119.10h2.24v2.25h-2.24zM195.48 119.10h6.71v2.25h-6.71zM117.22 121.22h8.94v2.25h-8.94zM184.30 121.22h2.24v2.25h-2.24zM197.71 121.22h2.24v2.25h-2.24zM202.18 131.85h2.24v2.25h-2.24zM188.77 133.97h2.24v2.25h-2.24zM170.88 136.10h4.47v2.25h-4.47zM191.00 136.10h2.24v2.25h-2.24zM166.41 138.22h8.94v2.25h-8.94zM202.18 138.22h4.47v2.25h-4.47zM168.64 140.35h2.24v2.25h-2.24zM175.35 140.35h2.24v2.25h-2.24zM166.41 142.47h4.47v2.25h-4.47zM170.88 144.60h6.71v2.25h-6.71zM202.18 144.60h2.24v2.25h-2.24zM220.07 144.60h6.71v2.25h-6.71zM170.88 146.72h4.47v2.25h-4.47zM177.59 146.72h2.24v2.25h-2.24zM186.53 146.72h2.24v2.25h-2.24zM191.00 146.72h4.47v2.25h-4.47zM213.36 146.72h4.47v2.25h-4.47zM222.31 146.72h2.24v2.25h-2.24zM173.12 148.85h2.24v2.25h-2.24zM177.59 148.85h2.24v2.25h-2.24zM182.06 148.85h2.24v2.25h-2.24zM211.13 148.85h6.71v2.25h-6.71zM213.36 150.97h2.24v2.25h-2.24zM213.36 163.72h2.24v2.25h-2.24zM208.89 165.85h2.24v2.25h-2.24zM217.84 165.85h2.24v2.25h-2.24zM208.89 167.97h2.24v2.25h-2.24zM213.36 167.97h4.47v2.25h-4.47z"/>
<path fill="#f2dcb5" d="M273.74 21.35h2.24v2.25h-2.24zM262.56 23.48h2.24v2.25h-2.24zM269.26 23.48h2.24v2.25h-2.24zM269.26 25.60h2.24v2.25h-2.24zM273.74 25.60h2.24v2.25h-2.24zM284.92 27.73h2.24v2.25h-2.24zM271.50 29.85h2.24v2.25h-2.24zM287.15 31.98h2.24v2.25h-2.24zM253.61 34.10h4.47v2.25h-4.47zM260.32 34.10h2.24v2.25h-2.24zM258.08 36.23h2.24v2.25h-2.24zM112.74 38.35h2.24v2.25h-2.24zM260.32 38.35h2.24v2.25h-2.24zM284.92 38.35h2.24v2.25h-2.24zM289.39 38.35h4.47v2.25h-4.47zM112.74 40.48h2.24v2.25h-2.24zM240.20 40.48h2.24v2.25h-2.24zM260.32 40.48h2.24v2.25h-2.24zM289.39 40.48h4.47v2.25h-4.47zM108.27 42.60h13.42v2.25h-13.42zM262.56 42.60h2.24v2.25h-2.24zM267.03 42.60h2.24v2.25h-2.24zM275.97 42.60h4.47v2.25h-4.47zM293.86 42.60h2.24v2.25h-2.24zM300.57 42.60h2.24v2.25h-2.24zM320.69 42.60h2.24v2.25h-2.24zM103.80 44.73h2.24v2.25h-2.24zM112.74 44.73h4.47v2.25h-4.47zM123.92 44.73h2.24v2.25h-2.24zM258.08 44.73h2.24v2.25h-2.24zM262.56 44.73h2.24v2.25h-2.24zM305.04 44.73h2.24v2.25h-2.24zM316.22 44.73h2.24v2.25h-2.24zM97.09 46.85h4.47v2.25h-4.47zM106.04 46.85h20.12v2.25h-20.12zM258.08 46.85h6.71v2.25h-6.71zM300.57 46.85h2.24v2.25h-2.24zM307.28 46.85h4.47v2.25h-4.47zM92.62 48.98h2.24v2.25h-2.24zM99.33 48.98h2.24v2.25h-2.24zM119.45 48.98h2.24v2.25h-2.24zM246.90 48.98h17.89v2.25h-17.89zM280.44 48.98h2.24v2.25h-2.24zM298.33 48.98h2.24v2.25h-2.24zM316.22 48.98h2.24v2.25h-2.24zM99.33 51.10h4.47v2.25h-4.47zM237.96 51.10h11.18v2.25h-11.18zM260.32 51.10h8.94v2.25h-8.94zM280.44 51.10h2.24v2.25h-2.24zM293.86 51.10h2.24v2.25h-2.24zM90.38 53.23h4.47v2.25h-4.47zM99.33 53.23h2.24v2.25h-2.24zM229.02 53.23h2.24v2.25h-2.24zM233.49 53.23h11.18v2.25h-11.18zM255.85 53.23h2.24v2.25h-2.24zM264.79 53.23h4.47v2.25h-4.47zM271.50 53.23h2.24v2.25h-2.24zM316.22 53.23h2.24v2.25h-2.24zM85.91 55.35h2.24v2.25h-2.24zM94.86 55.35h4.47v2.25h-4.47zM229.02 55.35h8.94v2.25h-8.94zM267.03 55.35h2.24v2.25h-2.24zM271.50 55.35h2.24v2.25h-2.24zM298.33 55.35h4.47v2.25h-4.47zM222.31 57.48h2.24v2.25h-2.24zM226.78 57.48h8.94v2.25h-8.94zM237.96 57.48h2.24v2.25h-2.24zM242.43 57.48h2.24v2.25h-2.24zM269.26 57.48h2.24v2.25h-2.24zM273.74 57.48h2.24v2.25h-2.24zM298.33 57.48h2.24v2.25h-2.24zM99.33 59.60h4.47v2.25h-4.47zM119.45 59.60h8.94v2.25h-8.94zM224.54 59.60h8.94v2.25h-8.94zM235.72 59.60h2.24v2.25h-2.24zM255.85 59.60h2.24v2.25h-2.24zM267.03 59.60h4.47v2.25h-4.47zM273.74 59.60h2.24v2.25h-2.24zM296.10 59.60h4.47v2.25h-4.47zM307.28 59.60h2.24v2.25h-2.24zM97.09 61.73h6.71v2.25h-6.71zM106.04 61.73h2.24v2.25h-2.24zM222.31 61.73h13.42v2.25h-13.42zM258.08 61.73h6.71v2.25h-6.71zM267.03 61.73h11.18v2.25h-11.18zM97.09 63.85h8.94v2.25h-8.94zM222.31 63.85h2.24v2.25h-2.24zM226.78 63.85h4.47v2.25h-4.47zM267.03 63.85h2.24v2.25h-2.24zM271.50 63.85h2.24v2.25h-2.24zM298.33 63.85h2.24v2.25h-2.24zM305.04 63.85h2.24v2.25h-2.24zM83.68 65.97h2.24v2.25h-2.24zM99.33 65.97h4.47v2.25h-4.47zM220.07 65.97h11.18v2.25h-11.18zM237.96 65.97h2.24v2.25h-2.24zM253.61 65.97h4.47v2.25h-4.47zM267.03 65.97h8.94v2.25h-8.94zM81.44 68.10h2.24v2.25h-2.24zM88.15 68.10h2.24v2.25h-2.24zM97.09 68.10h2.24v2.25h-2.24zM215.60 68.10h20.12v2.25h-20.12zM244.67 68.10h2.24v2.25h-2.24zM262.56 68.10h8.94v2.25h-8.94zM275.97 68.10h2.24v2.25h-2.24zM106.04 70.22h2.24v2.25h-2.24zM213.36 70.22h13.42v2.25h-13.42zM229.02 70.22h2.24v2.25h-2.24zM246.90 70.22h2.24v2.25h-2.24zM262.56 70.22h6.71v2.25h-6.71zM273.74 70.22h2.24v2.25h-2.24zM278.21 70.22h2.24v2.25h-2.24zM204.42 72.35h2.24v2.25h-2.24zM208.89 72.35h15.65v2.25h-15.65zM242.43 72.35h2.24v2.25h-2.24zM249.14 72.35h2.24v2.25h-2.24zM253.61 72.35h4.47v2.25h-4.47zM262.56 72.35h2.24v2.25h-2.24zM269.26 72.35h2.24v2.25h-2.24zM275.97 72.35h6.71v2.25h-6.71zM204.42 74.47h13.42v2.25h-13.42zM222.31 74.47h2.24v2.25h-2.24zM229.02 74.47h2.24v2.25h-2.24zM255.85 74.47h2.24v2.25h-2.24zM260.32 74.47h2.24v2.25h-2.24zM202.18 76.60h22.36v2.25h-22.36zM237.96 76.60h2.24v2.25h-2.24zM242.43 76.60h2.24v2.25h-2.24zM251.38 76.60h2.24v2.25h-2.24zM269.26 76.60h2.24v2.25h-2.24zM202.18 78.72h8.94v2.25h-8.94zM213.36 78.72h4.47v2.25h-4.47zM224.54 78.72h4.47v2.25h-4.47zM249.14 78.72h2.24v2.25h-2.24zM166.41 80.85h2.24v2.25h-2.24zM195.48 80.85h2.24v2.25h-2.24zM199.95 80.85h15.65v2.25h-15.65zM159.70 82.97h13.42v2.25h-13.42zM199.95 82.97h17.89v2.25h-17.89zM157.46 85.10h11.18v2.25h-11.18zM170.88 85.10h11.18v2.25h-11.18zM191.00 85.10h2.24v2.25h-2.24zM197.71 85.10h11.18v2.25h-11.18zM211.13 85.10h6.71v2.25h-6.71zM220.07 85.10h2.24v2.25h-2.24zM226.78 85.10h2.24v2.25h-2.24zM231.25 85.10h4.47v2.25h-4.47zM157.46 87.22h8.94v2.25h-8.94zM168.64 87.22h2.24v2.25h-2.24zM177.59 87.22h22.36v2.25h-22.36zM208.89 87.22h2.24v2.25h-2.24zM213.36 87.22h2.24v2.25h-2.24zM222.31 87.22h2.24v2.25h-2.24zM226.78 87.22h2.24v2.25h-2.24zM231.25 87.22h4.47v2.25h-4.47zM159.70 89.35h4.47v2.25h-4.47zM182.06 89.35h8.94v2.25h-8.94zM215.60 89.35h24.60v2.25h-24.60zM246.90 89.35h2.24v2.25h-2.24zM255.85 89.35h2.24v2.25h-2.24zM159.70 91.47h8.94v2.25h-8.94zM175.35 91.47h2.24v2.25h-2.24zM182.06 91.47h6.71v2.25h-6.71zM215.60 91.47h15.65v2.25h-15.65zM237.96 91.47h4.47v2.25h-4.47zM253.61 91.47h6.71v2.25h-6.71zM157.46 93.60h2.24v2.25h-2.24zM164.17 93.60h15.65v2.25h-15.65zM202.18 93.60h2.24v2.25h-2.24zM211.13 93.60h15.65v2.25h-15.65zM229.02 93.60h2.24v2.25h-2.24zM237.96 93.60h4.47v2.25h-4.47zM255.85 93.60h2.24v2.25h-2.24zM146.28 95.72h8.94v2.25h-8.94zM161.94 95.72h2.24v2.25h-2.24zM173.12 95.72h2.24v2.25h-2.24zM179.82 95.72h4.47v2.25h-4.47zM195.48 95.72h2.24v2.25h-2.24zM206.66 95.72h20.12v2.25h-20.12zM237.96 95.72h4.47v2.25h-4.47zM244.67 95.72h2.24v2.25h-2.24zM253.61 95.72h4.47v2.25h-4.47zM141.81 97.85h13.42v2.25h-13.42zM166.41 97.85h8.94v2.25h-8.94zM184.30 97.85h2.24v2.25h-2.24zM188.77 97.85h4.47v2.25h-4.47zM197.71 97.85h17.89v2.25h-17.89zM220.07 97.85h2.24v2.25h-2.24zM237.96 97.85h2.24v2.25h-2.24zM244.67 97.85h4.47v2.25h-4.47zM251.38 97.85h4.47v2.25h-4.47zM139.58 99.97h2.24v2.25h-2.24zM146.28 99.97h15.65v2.25h-15.65zM164.17 99.97h8.94v2.25h-8.94zM179.82 99.97h2.24v2.25h-2.24zM184.30 99.97h2.24v2.25h-2.24zM188.77 99.97h11.18v2.25h-11.18zM208.89 99.97h2.24v2.25h-2.24zM215.60 99.97h6.71v2.25h-6.71zM233.49 99.97h4.47v2.25h-4.47zM251.38 99.97h2.24v2.25h-2.24zM137.34 102.10h4.47v2.25h-4.47zM148.52 102.10h13.42v2.25h-13.42zM166.41 102.10h6.71v2.25h-6.71zM195.48 102.10h2.24v2.25h-2.24zM199.95 102.10h4.47v2.25h-4.47zM206.66 102.10h2.24v2.25h-2.24zM213.36 102.10h2.24v2.25h-2.24zM217.84 102.10h4.47v2.25h-4.47zM237.96 102.10h2.24v2.25h-2.24zM251.38 102.10h2.24v2.25h-2.24zM106.04 104.22h2.24v2.25h-2.24zM110.51 104.22h2.24v2.25h-2.24zM126.16 104.22h20.12v2.25h-20.12zM152.99 104.22h8.94v2.25h-8.94zM168.64 104.22h2.24v2.25h-2.24zM184.30 104.22h2.24v2.25h-2.24zM222.31 104.22h2.24v2.25h-2.24zM231.25 104.22h2.24v2.25h-2.24zM251.38 104.22h2.24v2.25h-2.24zM103.80 106.35h2.24v2.25h-2.24zM108.27 106.35h4.47v2.25h-4.47zM126.16 106.35h2.24v2.25h-2.24zM130.63 106.35h2.24v2.25h-2.24zM137.34 106.35h2.24v2.25h-2.24zM144.05 106.35h4.47v2.25h-4.47zM159.70 106.35h2.24v2.25h-2.24zM202.18 106.35h2.24v2.25h-2.24zM213.36 106.35h4.47v2.25h-4.47zM224.54 106.35h6.71v2.25h-6.71zM94.86 108.47h6.71v2.25h-6.71zM106.04 108.47h2.24v2.25h-2.24zM121.69 108.47h6.71v2.25h-6.71zM130.63 108.47h2.24v2.25h-2.24zM137.34 108.47h4.47v2.25h-4.47zM150.76 108.47h2.24v2.25h-2.24zM155.23 108.47h4.47v2.25h-4.47zM170.88 108.47h4.47v2.25h-4.47zM217.84 108.47h2.24v2.25h-2.24zM253.61 108.47h2.24v2.25h-2.24zM97.09 110.60h2.24v2.25h-2.24zM110.51 110.60h2.24v2.25h-2.24zM114.98 110.60h2.24v2.25h-2.24zM121.69 110.60h4.47v2.25h-4.47zM135.10 110.60h2.24v2.25h-2.24zM141.81 110.60h2.24v2.25h-2.24zM152.99 110.60h2.24v2.25h-2.24zM157.46 110.60h2.24v2.25h-2.24zM168.64 110.60h4.47v2.25h-4.47zM213.36 110.60h2.24v2.25h-2.24zM246.90 110.60h4.47v2.25h-4.47zM94.86 112.72h2.24v2.25h-2.24zM108.27 112.72h2.24v2.25h-2.24zM114.98 112.72h4.47v2.25h-4.47zM126.16 112.72h2.24v2.25h-2.24zM135.10 112.72h8.94v2.25h-8.94zM155.23 112.72h2.24v2.25h-2.24zM170.88 112.72h2.24v2.25h-2.24zM182.06 112.72h2.24v2.25h-2.24zM202.18 112.72h2.24v2.25h-2.24zM213.36 112.72h2.24v2.25h-2.24zM231.25 112.72h2.24v2.25h-2.24zM235.72 112.72h2.24v2.25h-2.24zM260.32 112.72h2.24v2.25h-2.24zM76.97 114.85h2.24v2.25h-2.24zM83.68 114.85h4.47v2.25h-4.47zM114.98 114.85h2.24v2.25h-2.24zM139.58 114.85h2.24v2.25h-2.24zM173.12 114.85h2.24v2.25h-2.24zM184.30 114.85h4.47v2.25h-4.47zM193.24 114.85h2.24v2.25h-2.24zM202.18 114.85h2.24v2.25h-2.24zM220.07 114.85h2.24v2.25h-2.24zM229.02 114.85h2.24v2.25h-2.24zM233.49 114.85h2.24v2.25h-2.24zM237.96 114.85h2.24v2.25h-2.24zM258.08 114.85h2.24v2.25h-2.24zM262.56 114.85h2.24v2.25h-2.24zM88.15 116.97h2.24v2.25h-2.24zM92.62 116.97h8.94v2.25h-8.94zM103.80 116.97h2.24v2.25h-2.24zM117.22 116.97h6.71v2.25h-6.71zM126.16 116.97h6.71v2.25h-6.71zM148.52 116.97h2.24v2.25h-2.24zM157.46 116.97h2.24v2.25h-2.24zM161.94 116.97h2.24v2.25h-2.24zM182.06 116.97h24.60v2.25h-24.60zM229.02 116.97h4.47v2.25h-4.47zM255.85 116.97h2.24v2.25h-2.24zM92.62 119.10h2.24v2.25h-2.24zM101.56 119.10h6.71v2.25h-6.71zM112.74 119.10h6.71v2.25h-6.71zM132.87 119.10h2.24v2.25h-2.24zM144.05 119.10h2.24v2.25h-2.24zM152.99 119.10h2.24v2.25h-2.24zM159.70 119.10h2.24v2.25h-2.24zM182.06 119.10h13.42v2.25h-13.42zM202.18 119.10h4.47v2.25h-4.47zM226.78 119.10h2.24v2.25h-2.24zM253.61 119.10h2.24v2.25h-2.24zM258.08 119.10h4.47v2.25h-4.47zM264.79 119.10h2.24v2.25h-2.24zM103.80 121.22h2.24v2.25h-2.24zM108.27 121.22h8.94v2.25h-8.94zM132.87 121.22h2.24v2.25h-2.24zM152.99 121.22h2.24v2.25h-2.24zM161.94 121.22h2.24v2.25h-2.24zM166.41 121.22h2.24v2.25h-2.24zM188.77 121.22h8.94v2.25h-8.94zM199.95 121.22h6.71v2.25h-6.71zM213.36 121.22h4.47v2.25h-4.47zM224.54 121.22h2.24v2.25h-2.24zM233.49 121.22h2.24v2.25h-2.24zM94.86 123.35h2.24v2.25h-2.24zM103.80 123.35h20.12v2.25h-20.12zM128.40 123.35h4.47v2.25h-4.47zM141.81 123.35h2.24v2.25h-2.24zM161.94 123.35h6.71v2.25h-6.71zM191.00 123.35h15.65v2.25h-15.65zM208.89 123.35h2.24v2.25h-2.24zM220.07 123.35h2.24v2.25h-2.24zM224.54 123.35h15.65v2.25h-15.65zM242.43 123.35h2.24v2.25h-2.24zM260.32 123.35h2.24v2.25h-2.24zM106.04 125.47h15.65v2.25h-15.65zM144.05 125.47h2.24v2.25h-2.24zM148.52 125.47h2.24v2.25h-2.24zM161.94 125.47h6.71v2.25h-6.71zM184.30 125.47h2.24v2.25h-2.24zM193.24 125.47h2.24v2.25h-2.24zM197.71 125.47h11.18v2.25h-11.18zM213.36 125.47h2.24v2.25h-2.24zM220.07 125.47h2.24v2.25h-2.24zM229.02 125.47h11.18v2.25h-11.18zM255.85 125.47h2.24v2.25h-2.24zM106.04 127.60h2.24v2.25h-2.24zM112.74 127.60h6.71v2.25h-6.71zM121.69 127.60h2.24v2.25h-2.24zM126.16 127.60h2.24v2.25h-2.24zM130.63 127.60h2.24v2.25h-2.24zM137.34 127.60h2.24v2.25h-2.24zM148.52 127.60h2.24v2.25h-2.24zM161.94 127.60h2.24v2.25h-2.24zM175.35 127.60h2.24v2.25h-2.24zM182.06 127.60h4.47v2.25h-4.47zM188.77 127.60h6.71v2.25h-6.71zM197.71 127.60h4.47v2.25h-4.47zM206.66 127.60h2.24v2.25h-2.24zM213.36 127.60h2.24v2.25h-2.24zM220.07 127.60h6.71v2.25h-6.71zM231.25 127.60h8.94v2.25h-8.94zM255.85 127.60h2.24v2.25h-2.24zM164.17 129.72h2.24v2.25h-2.24zM168.64 129.72h2.24v2.25h-2.24zM191.00 129.72h4.47v2.25h-4.47zM199.95 129.72h2.24v2.25h-2.24zM204.42 129.72h8.94v2.25h-8.94zM220.07 129.72h2.24v2.25h-2.24zM231.25 129.72h8.94v2.25h-8.94zM242.43 129.72h4.47v2.25h-4.47zM260.32 129.72h2.24v2.25h-2.24zM164.17 131.85h8.94v2.25h-8.94zM193.24 131.85h2.24v2.25h-2.24zM197.71 131.85h4.47v2.25h-4.47zM204.42 131.85h17.89v2.25h-17.89zM231.25 131.85h8.94v2.25h-8.94zM164.17 133.97h15.65v2.25h-15.65zM182.06 133.97h2.24v2.25h-2.24zM186.53 133.97h2.24v2.25h-2.24zM199.95 133.97h11.18v2.25h-11.18zM213.36 133.97h6.71v2.25h-6.71zM224.54 133.97h2.24v2.25h-2.24zM231.25 133.97h6.71v2.25h-6.71zM255.85 133.97h4.47v2.25h-4.47zM164.17 136.10h6.71v2.25h-6.71zM175.35 136.10h2.24v2.25h-2.24zM184.30 136.10h2.24v2.25h-2.24zM193.24 136.10h6.71v2.25h-6.71zM204.42 136.10h2.24v2.25h-2.24zM213.36 136.10h4.47v2.25h-4.47zM246.90 136.10h2.24v2.25h-2.24zM164.17 138.22h2.24v2.25h-2.24zM175.35 138.22h2.24v2.25h-2.24zM179.82 138.22h2.24v2.25h-2.24zM184.30 138.22h4.47v2.25h-4.47zM193.24 138.22h8.94v2.25h-8.94zM208.89 138.22h2.24v2.25h-2.24zM213.36 138.22h4.47v2.25h-4.47zM229.02 138.22h2.24v2.25h-2.24zM246.90 138.22h2.24v2.25h-2.24zM164.17 140.35h2.24v2.25h-2.24zM177.59 140.35h2.24v2.25h-2.24zM182.06 140.35h4.47v2.25h-4.47zM193.24 140.35h8.94v2.25h-8.94zM213.36 140.35h2.24v2.25h-2.24zM222.31 140.35h8.94v2.25h-8.94zM161.94 142.47h4.47v2.25h-4.47zM175.35 142.47h4.47v2.25h-4.47zM186.53 142.47h4.47v2.25h-4.47zM193.24 142.47h6.71v2.25h-6.71zM204.42 142.47h2.24v2.25h-2.24zM208.89 142.47h2.24v2.25h-2.24zM215.60 142.47h17.89v2.25h-17.89zM240.20 142.47h2.24v2.25h-2.24zM166.41 144.60h4.47v2.25h-4.47zM177.59 144.60h24.60v2.25h-24.60zM217.84 144.60h2.24v2.25h-2.24zM226.78 144.60h2.24v2.25h-2.24zM161.94 146.72h2.24v2.25h-2.24zM166.41 146.72h4.47v2.25h-4.47zM179.82 146.72h6.71v2.25h-6.71zM188.77 146.72h2.24v2.25h-2.24zM195.48 146.72h17.89v2.25h-17.89zM217.84 146.72h4.47v2.25h-4.47zM224.54 146.72h2.24v2.25h-2.24zM229.02 146.72h4.47v2.25h-4.47zM170.88 148.85h2.24v2.25h-2.24zM175.35 148.85h2.24v2.25h-2.24zM179.82 148.85h2.24v2.25h-2.24zM184.30 148.85h15.65v2.25h-15.65zM206.66 148.85h4.47v2.25h-4.47zM217.84 148.85h8.94v2.25h-8.94zM166.41 150.97h2.24v2.25h-2.24zM173.12 150.97h13.42v2.25h-13.42zM208.89 150.97h4.47v2.25h-4.47zM215.60 150.97h13.42v2.25h-13.42zM233.49 150.97h2.24v2.25h-2.24zM170.88 153.10h2.24v2.25h-2.24zM177.59 153.10h2.24v2.25h-2.24zM213.36 153.10h4.47v2.25h-4.47zM222.31 153.10h2.24v2.25h-2.24zM229.02 153.10h2.24v2.25h-2.24zM206.66 155.22h2.24v2.25h-2.24zM215.60 155.22h4.47v2.25h-4.47zM213.36 157.35h2.24v2.25h-2.24zM217.84 163.72h2.24v2.25h-2.24z"/>
<path fill="#d9edb4" d="M278.21 25.60h2.24v2.25h-2.24zM275.97 27.73h2.24v2.25h-2.24zM267.03 29.85h4.47v2.25h-4.47zM271.50 31.98h2.24v2.25h-2.24zM264.79 34.10h2.24v2.25h-2.24zM280.44 36.23h6.71v2.25h-6.71zM296.10 36.23h2.24v2.25h-2.24zM282.68 38.35h2.24v2.25h-2.24zM287.15 38.35h2.24v2.25h-2.24zM267.03 40.48h2.24v2.25h-2.24zM278.21 40.48h2.24v2.25h-2.24zM287.15 40.48h2.24v2.25h-2.24zM296.10 40.48h2.24v2.25h-2.24zM282.68 42.60h2.24v2.25h-2.24zM282.68 44.73h4.47v2.25h-4.47zM291.62 44.73h2.24v2.25h-2.24zM298.33 44.73h2.24v2.25h-2.24zM322.93 44.73h2.24v2.25h-2.24zM289.39 46.85h2.24v2.25h-2.24zM305.04 46.85h2.24v2.25h-2.24zM316.22 46.85h2.24v2.25h-2.24zM284.92 48.98h2.24v2.25h-2.24zM309.51 48.98h2.24v2.25h-2.24zM291.62 51.10h2.24v2.25h-2.24zM282.68 53.23h2.24v2.25h-2.24zM291.62 53.23h2.24v2.25h-2.24zM296.10 53.23h2.24v2.25h-2.24zM278.21 55.35h4.47v2.25h-4.47zM284.92 55.35h2.24v2.25h-2.24zM291.62 55.35h4.47v2.25h-4.47zM110.51 57.48h2.24v2.25h-2.24zM278.21 57.48h2.24v2.25h-2.24zM284.92 57.48h2.24v2.25h-2.24zM280.44 59.60h2.24v2.25h-2.24zM284.92 59.60h2.24v2.25h-2.24zM291.62 59.60h2.24v2.25h-2.24zM300.57 59.60h2.24v2.25h-2.24zM278.21 61.73h2.24v2.25h-2.24zM284.92 61.73h4.47v2.25h-4.47zM293.86 61.73h2.24v2.25h-2.24zM284.92 63.85h2.24v2.25h-2.24zM289.39 63.85h2.24v2.25h-2.24zM280.44 65.97h2.24v2.25h-2.24zM287.15 65.97h2.24v2.25h-2.24zM291.62 68.10h2.24v2.25h-2.24zM271.50 74.47h2.24v2.25h-2.24zM237.96 104.22h2.24v2.25h-2.24zM249.14 112.72h2.24v2.25h-2.24zM246.90 114.85h2.24v2.25h-2.24zM148.52 119.10h2.24v2.25h-2.24zM255.85 121.22h2.24v2.25h-2.24z"/>
<path fill="#bfe090" d="M264.79 31.98h2.24v2.25h-2.24zM269.26 31.98h2.24v2.25h-2.24zM271.50 36.23h4.47v2.25h-4.47zM271.50 38.35h2.24v2.25h-2.24zM298.33 40.48h2.24v2.25h-2.24zM284.92 42.60h4.47v2.25h-4.47zM322.93 42.60h2.24v2.25h-2.24zM280.44 44.73h2.24v2.25h-2.24zM318.46 44.73h4.47v2.25h-4.47zM284.92 46.85h4.47v2.25h-4.47zM302.80 46.85h2.24v2.25h-2.24zM318.46 46.85h2.24v2.25h-2.24zM284.92 53.23h2.24v2.25h-2.24zM293.86 53.23h2.24v2.25h-2.24zM282.68 55.35h2.24v2.25h-2.24zM289.39 55.35h2.24v2.25h-2.24zM280.44 57.48h2.24v2.25h-2.24zM289.39 57.48h4.47v2.25h-4.47zM282.68 59.60h2.24v2.25h-2.24zM289.39 59.60h2.24v2.25h-2.24zM282.68 61.73h2.24v2.25h-2.24zM282.68 63.85h2.24v2.25h-2.24z"/>
<path fill="#a3d26e" d="M267.03 34.10h6.71v2.25h-6.71zM318.46 42.60h2.24v2.25h-2.24zM289.39 53.23h2.24v2.25h-2.24zM287.15 55.35h2.24v2.25h-2.24zM282.68 57.48h2.24v2.25h-2.24z"/>
<path fill="#84c048" d="M267.03 31.98h2.24v2.25h-2.24zM267.03 36.23h2.24v2.25h-2.24zM253.61 106.35h2.24v2.25h-2.24z"/>
</g>
<use href="#line"/><use href="#inset"/><use href="#mtick"/>
</g>
<g id="mapB" transform="translate(330.5 1.73) scale(1 0.9907)">
<use href="#geo"/>
<g clip-path="url(#cc)">
<path fill="#fff" d="M262.5 21.2h20.3v2.73h-20.3zM260.2 23.4h24.8v2.73h-24.8zM260.2 25.5h27.0v2.73h-27.0zM260.2 27.6h29.3v2.73h-29.3zM258.0 29.8h31.5v2.73h-31.5zM255.7 31.9h36.0v2.73h-36.0zM253.5 34.0h40.4v2.73h-40.4zM244.6 36.1h53.9v2.73h-53.9zM110.4 38.2h4.7v2.73h-4.7zM242.3 38.2h62.8v2.73h-62.8zM105.9 40.4h11.4v2.73h-11.4zM240.1 40.4h65.0v2.73h-65.0zM105.9 42.5h15.9v2.73h-15.9zM242.3 42.5h65.0v2.73h-65.0zM318.4 42.5h9.1v2.73h-9.1zM103.7 44.6h22.6v2.73h-22.6zM255.7 44.6h69.5v2.73h-69.5zM97.0 46.8h31.5v2.73h-31.5zM258.0 46.8h65.0v2.73h-65.0zM92.5 48.9h15.9v2.73h-15.9zM110.4 48.9h20.3v2.73h-20.3zM246.8 48.9h74.0v2.73h-74.0zM92.5 51.0h11.4v2.73h-11.4zM112.6 51.0h9.1v2.73h-9.1zM237.9 51.0h82.9v2.73h-82.9zM90.3 53.1h11.4v2.73h-11.4zM228.9 53.1h89.6v2.73h-89.6zM83.6 55.2h6.9v2.73h-6.9zM92.5 55.2h9.1v2.73h-9.1zM105.9 55.2h4.7v2.73h-4.7zM222.2 55.2h89.6v2.73h-89.6zM81.3 57.4h6.9v2.73h-6.9zM101.5 57.4h2.4v2.73h-2.4zM108.2 57.4h11.4v2.73h-11.4zM222.2 57.4h87.4v2.73h-87.4zM81.3 59.5h6.9v2.73h-6.9zM99.2 59.5h6.9v2.73h-6.9zM110.4 59.5h18.1v2.73h-18.1zM222.2 59.5h87.4v2.73h-87.4zM97.0 61.6h11.4v2.73h-11.4zM110.4 61.6h6.9v2.73h-6.9zM123.8 61.6h2.4v2.73h-2.4zM217.7 61.6h89.6v2.73h-89.6zM97.0 63.8h11.4v2.73h-11.4zM217.7 63.8h89.6v2.73h-89.6zM83.6 65.9h24.8v2.73h-24.8zM215.5 65.9h89.6v2.73h-89.6zM81.3 68.0h20.3v2.73h-20.3zM208.8 68.0h89.6v2.73h-89.6zM81.3 70.1h2.4v2.73h-2.4zM105.9 70.1h2.4v2.73h-2.4zM204.3 70.1h89.6v2.73h-89.6zM70.2 72.2h2.4v2.73h-2.4zM202.1 72.2h87.4v2.73h-87.4zM199.8 74.4h62.8v2.73h-62.8zM266.9 74.4h15.9v2.73h-15.9zM54.5 76.5h2.4v2.73h-2.4zM199.8 76.5h56.1v2.73h-56.1zM266.9 76.5h9.1v2.73h-9.1zM197.6 78.6h56.1v2.73h-56.1zM266.9 78.6h6.9v2.73h-6.9zM161.8 80.8h6.9v2.73h-6.9zM195.4 80.8h53.9v2.73h-53.9zM159.6 82.9h18.1v2.73h-18.1zM193.1 82.9h27.0v2.73h-27.0zM222.2 82.9h27.0v2.73h-27.0zM157.4 85.0h24.8v2.73h-24.8zM190.9 85.0h58.3v2.73h-58.3zM157.4 87.1h94.1v2.73h-94.1zM159.6 89.2h44.9v2.73h-44.9zM215.5 89.2h53.9v2.73h-53.9zM159.6 91.4h44.9v2.73h-44.9zM215.5 91.4h49.4v2.73h-49.4zM152.9 93.5h107.5v2.73h-107.5zM143.9 95.6h114.2v2.73h-114.2zM135.0 97.8h123.2v2.73h-123.2zM126.1 99.9h129.9v2.73h-129.9zM117.1 102.0h29.3v2.73h-29.3zM148.4 102.0h109.8v2.73h-109.8zM105.9 104.1h154.5v2.73h-154.5zM97.0 106.2h165.7v2.73h-165.7zM94.8 108.4h6.9v2.73h-6.9zM105.9 108.4h2.4v2.73h-2.4zM112.6 108.4h150.0v2.73h-150.0zM92.5 110.5h9.1v2.73h-9.1zM105.9 110.5h156.7v2.73h-156.7zM88.0 112.6h176.8v2.73h-176.8zM76.9 114.8h188.0v2.73h-188.0zM83.6 116.9h183.6v2.73h-183.6zM88.0 119.0h183.6v2.73h-183.6zM92.5 121.1h176.8v2.73h-176.8zM94.8 123.2h174.6v2.73h-174.6zM99.2 125.4h167.9v2.73h-167.9zM103.7 127.5h56.1v2.73h-56.1zM161.8 127.5h105.3v2.73h-105.3zM117.1 129.6h4.7v2.73h-4.7zM135.0 129.6h11.4v2.73h-11.4zM164.1 129.6h100.8v2.73h-100.8zM135.0 131.8h6.9v2.73h-6.9zM164.1 131.8h98.6v2.73h-98.6zM164.1 133.9h96.3v2.73h-96.3zM164.1 136.0h94.1v2.73h-94.1zM164.1 138.1h91.9v2.73h-91.9zM164.1 140.2h89.6v2.73h-89.6zM161.8 142.4h89.6v2.73h-89.6zM159.6 144.5h89.6v2.73h-89.6zM161.8 146.6h82.9v2.73h-82.9zM166.3 148.8h74.0v2.73h-74.0zM166.3 150.9h20.3v2.73h-20.3zM197.6 150.9h38.2v2.73h-38.2zM168.5 153.0h11.4v2.73h-11.4zM199.8 153.0h31.5v2.73h-31.5zM170.8 155.1h6.9v2.73h-6.9zM202.1 155.1h20.3v2.73h-20.3zM213.3 157.2h2.4v2.73h-2.4zM211.0 163.6h9.1v2.73h-9.1zM208.8 165.8h11.4v2.73h-11.4zM208.8 167.9h9.1v2.73h-9.1z"/>
<path fill="#610404" d="M81.44 59.60h4.47v2.25h-4.47zM255.85 68.10h2.24v2.25h-2.24zM255.85 70.22h4.47v2.25h-4.47zM246.90 82.97h2.24v2.25h-2.24z"/>
<path fill="#6d0505" d="M85.91 59.60h2.24v2.25h-2.24zM258.08 68.10h4.47v2.25h-4.47zM262.56 70.22h2.24v2.25h-2.24zM244.67 82.97h2.24v2.25h-2.24zM112.74 121.22h2.24v2.25h-2.24z"/>
<path fill="#7b0404" d="M255.85 72.35h2.24v2.25h-2.24zM246.90 80.85h2.24v2.25h-2.24zM244.67 87.22h2.24v2.25h-2.24zM246.90 93.60h4.47v2.25h-4.47zM191.00 95.72h2.24v2.25h-2.24zM110.51 121.22h2.24v2.25h-2.24z"/>
<path fill="#840505" d="M255.85 57.48h2.24v2.25h-2.24zM251.38 63.85h2.24v2.25h-2.24zM237.96 68.10h2.24v2.25h-2.24zM244.67 70.22h2.24v2.25h-2.24zM253.61 70.22h2.24v2.25h-2.24zM260.32 70.22h2.24v2.25h-2.24zM253.61 72.35h2.24v2.25h-2.24zM246.90 78.72h2.24v2.25h-2.24zM242.43 82.97h2.24v2.25h-2.24zM240.20 85.10h2.24v2.25h-2.24zM249.14 91.47h4.47v2.25h-4.47zM193.24 95.72h2.24v2.25h-2.24z"/>
<path fill="#9a2610" d="M253.61 57.48h2.24v2.25h-2.24zM258.08 57.48h2.24v2.25h-2.24zM253.61 63.85h2.24v2.25h-2.24zM237.96 65.97h2.24v2.25h-2.24zM237.96 78.72h2.24v2.25h-2.24zM244.67 85.10h2.24v2.25h-2.24zM188.77 93.60h2.24v2.25h-2.24zM244.67 93.60h2.24v2.25h-2.24zM229.02 102.10h2.24v2.25h-2.24zM114.98 119.10h2.24v2.25h-2.24zM117.22 121.22h2.24v2.25h-2.24z"/>
<path fill="#b1541f" d="M258.08 44.73h2.24v2.25h-2.24zM242.43 57.48h2.24v2.25h-2.24zM242.43 59.60h4.47v2.25h-4.47zM249.14 59.60h2.24v2.25h-2.24zM253.61 59.60h2.24v2.25h-2.24zM246.90 61.73h4.47v2.25h-4.47zM258.08 61.73h2.24v2.25h-2.24zM246.90 63.85h2.24v2.25h-2.24zM235.72 65.97h2.24v2.25h-2.24zM262.56 68.10h2.24v2.25h-2.24zM242.43 70.22h2.24v2.25h-2.24zM244.67 72.35h2.24v2.25h-2.24zM249.14 74.47h2.24v2.25h-2.24zM246.90 76.60h2.24v2.25h-2.24zM240.20 78.72h2.24v2.25h-2.24zM242.43 80.85h2.24v2.25h-2.24zM193.24 93.60h2.24v2.25h-2.24zM199.95 93.60h2.24v2.25h-2.24zM233.49 93.60h2.24v2.25h-2.24zM231.25 97.85h2.24v2.25h-2.24zM226.78 104.22h2.24v2.25h-2.24zM112.74 116.97h2.24v2.25h-2.24zM119.45 116.97h2.24v2.25h-2.24zM112.74 119.10h2.24v2.25h-2.24zM108.27 121.22h2.24v2.25h-2.24zM114.98 121.22h2.24v2.25h-2.24z"/>
<path fill="#c57a32" d="M244.67 38.35h4.47v2.25h-4.47zM246.90 40.48h2.24v2.25h-2.24zM249.14 42.60h4.47v2.25h-4.47zM302.80 42.60h2.24v2.25h-2.24zM255.85 44.73h2.24v2.25h-2.24zM94.86 51.10h2.24v2.25h-2.24zM246.90 53.23h2.24v2.25h-2.24zM244.67 55.35h2.24v2.25h-2.24zM262.56 55.35h2.24v2.25h-2.24zM260.32 57.48h4.47v2.25h-4.47zM246.90 59.60h2.24v2.25h-2.24zM251.38 59.60h2.24v2.25h-2.24zM244.67 61.73h2.24v2.25h-2.24zM242.43 63.85h2.24v2.25h-2.24zM249.14 63.85h2.24v2.25h-2.24zM242.43 65.97h2.24v2.25h-2.24zM249.14 65.97h2.24v2.25h-2.24zM253.61 65.97h11.18v2.25h-11.18zM244.67 68.10h4.47v2.25h-4.47zM235.72 70.22h2.24v2.25h-2.24zM246.90 70.22h2.24v2.25h-2.24zM251.38 70.22h2.24v2.25h-2.24zM249.14 72.35h4.47v2.25h-4.47zM255.85 74.47h2.24v2.25h-2.24zM235.72 76.60h2.24v2.25h-2.24zM249.14 76.60h2.24v2.25h-2.24zM226.78 78.72h2.24v2.25h-2.24zM249.14 78.72h2.24v2.25h-2.24zM240.20 80.85h2.24v2.25h-2.24zM244.67 80.85h2.24v2.25h-2.24zM237.96 82.97h4.47v2.25h-4.47zM249.14 87.22h2.24v2.25h-2.24zM242.43 89.35h2.24v2.25h-2.24zM249.14 89.35h2.24v2.25h-2.24zM195.48 91.47h2.24v2.25h-2.24zM246.90 91.47h2.24v2.25h-2.24zM195.48 93.60h2.24v2.25h-2.24zM229.02 93.60h4.47v2.25h-4.47zM251.38 93.60h2.24v2.25h-2.24zM195.48 95.72h2.24v2.25h-2.24zM229.02 95.72h4.47v2.25h-4.47zM246.90 95.72h6.71v2.25h-6.71zM224.54 97.85h6.71v2.25h-6.71zM226.78 99.97h2.24v2.25h-2.24zM224.54 102.10h4.47v2.25h-4.47zM117.22 119.10h2.24v2.25h-2.24z"/>
<path fill="#d69a5a" d="M246.90 36.23h2.24v2.25h-2.24zM251.38 36.23h2.24v2.25h-2.24zM249.14 38.35h4.47v2.25h-4.47zM291.62 38.35h2.24v2.25h-2.24zM249.14 40.48h6.71v2.25h-6.71zM246.90 42.60h2.24v2.25h-2.24zM253.61 42.60h6.71v2.25h-6.71zM258.08 46.85h2.24v2.25h-2.24zM249.14 51.10h2.24v2.25h-2.24zM255.85 51.10h2.24v2.25h-2.24zM278.21 51.10h2.24v2.25h-2.24zM244.67 53.23h2.24v2.25h-2.24zM249.14 53.23h2.24v2.25h-2.24zM260.32 53.23h2.24v2.25h-2.24zM258.08 55.35h2.24v2.25h-2.24zM237.96 57.48h2.24v2.25h-2.24zM244.67 57.48h8.94v2.25h-8.94zM235.72 59.60h6.71v2.25h-6.71zM255.85 59.60h6.71v2.25h-6.71zM235.72 61.73h4.47v2.25h-4.47zM242.43 61.73h2.24v2.25h-2.24zM251.38 61.73h6.71v2.25h-6.71zM235.72 63.85h2.24v2.25h-2.24zM240.20 63.85h2.24v2.25h-2.24zM258.08 63.85h2.24v2.25h-2.24zM233.49 65.97h2.24v2.25h-2.24zM240.20 65.97h2.24v2.25h-2.24zM244.67 65.97h2.24v2.25h-2.24zM251.38 65.97h2.24v2.25h-2.24zM240.20 68.10h2.24v2.25h-2.24zM240.20 70.22h2.24v2.25h-2.24zM249.14 70.22h2.24v2.25h-2.24zM226.78 72.35h4.47v2.25h-4.47zM233.49 72.35h4.47v2.25h-4.47zM242.43 72.35h2.24v2.25h-2.24zM258.08 72.35h2.24v2.25h-2.24zM220.07 74.47h2.24v2.25h-2.24zM229.02 74.47h6.71v2.25h-6.71zM237.96 74.47h2.24v2.25h-2.24zM246.90 74.47h2.24v2.25h-2.24zM251.38 74.47h2.24v2.25h-2.24zM229.02 76.60h6.71v2.25h-6.71zM237.96 76.60h2.24v2.25h-2.24zM244.67 76.60h2.24v2.25h-2.24zM220.07 78.72h4.47v2.25h-4.47zM229.02 78.72h4.47v2.25h-4.47zM242.43 78.72h4.47v2.25h-4.47zM224.54 80.85h4.47v2.25h-4.47zM231.25 80.85h8.94v2.25h-8.94zM224.54 82.97h2.24v2.25h-2.24zM229.02 82.97h2.24v2.25h-2.24zM235.72 82.97h2.24v2.25h-2.24zM235.72 85.10h2.24v2.25h-2.24zM199.95 87.22h6.71v2.25h-6.71zM197.71 89.35h4.47v2.25h-4.47zM240.20 89.35h2.24v2.25h-2.24zM244.67 89.35h4.47v2.25h-4.47zM193.24 91.47h2.24v2.25h-2.24zM199.95 91.47h2.24v2.25h-2.24zM231.25 91.47h6.71v2.25h-6.71zM242.43 91.47h2.24v2.25h-2.24zM184.30 93.60h2.24v2.25h-2.24zM204.42 93.60h4.47v2.25h-4.47zM235.72 93.60h2.24v2.25h-2.24zM240.20 93.60h2.24v2.25h-2.24zM188.77 95.72h2.24v2.25h-2.24zM197.71 95.72h2.24v2.25h-2.24zM226.78 95.72h2.24v2.25h-2.24zM233.49 95.72h2.24v2.25h-2.24zM195.48 97.85h2.24v2.25h-2.24zM249.14 97.85h2.24v2.25h-2.24zM224.54 99.97h2.24v2.25h-2.24zM229.02 99.97h4.47v2.25h-4.47zM231.25 102.10h2.24v2.25h-2.24zM224.54 104.22h2.24v2.25h-2.24zM121.69 116.97h4.47v2.25h-4.47zM106.04 119.10h6.71v2.25h-6.71zM119.45 119.10h2.24v2.25h-2.24zM106.04 121.22h2.24v2.25h-2.24zM108.27 123.35h2.24v2.25h-2.24zM112.74 123.35h4.47v2.25h-4.47zM170.88 142.47h2.24v2.25h-2.24zM222.31 144.60h2.24v2.25h-2.24zM175.35 146.72h2.24v2.25h-2.24zM222.31 146.72h2.24v2.25h-2.24zM215.60 150.97h2.24v2.25h-2.24zM211.13 165.85h2.24v2.25h-2.24z"/>
<path fill="#e3b888" d="M287.15 27.73h2.24v2.25h-2.24zM260.32 31.98h2.24v2.25h-2.24zM275.97 31.98h2.24v2.25h-2.24zM244.67 36.23h2.24v2.25h-2.24zM249.14 36.23h2.24v2.25h-2.24zM253.61 36.23h2.24v2.25h-2.24zM262.56 36.23h2.24v2.25h-2.24zM253.61 38.35h6.71v2.25h-6.71zM108.27 40.48h4.47v2.25h-4.47zM244.67 40.48h2.24v2.25h-2.24zM255.85 40.48h4.47v2.25h-4.47zM110.51 42.60h2.24v2.25h-2.24zM242.43 42.60h4.47v2.25h-4.47zM260.32 42.60h2.24v2.25h-2.24zM108.27 44.73h4.47v2.25h-4.47zM114.98 44.73h2.24v2.25h-2.24zM119.45 44.73h2.24v2.25h-2.24zM260.32 44.73h2.24v2.25h-2.24zM260.32 46.85h2.24v2.25h-2.24zM302.80 46.85h2.24v2.25h-2.24zM94.86 48.98h4.47v2.25h-4.47zM110.51 48.98h2.24v2.25h-2.24zM126.16 48.98h2.24v2.25h-2.24zM249.14 48.98h11.18v2.25h-11.18zM278.21 48.98h2.24v2.25h-2.24zM97.09 51.10h2.24v2.25h-2.24zM244.67 51.10h4.47v2.25h-4.47zM251.38 51.10h4.47v2.25h-4.47zM258.08 51.10h6.71v2.25h-6.71zM94.86 53.23h4.47v2.25h-4.47zM242.43 53.23h2.24v2.25h-2.24zM251.38 53.23h2.24v2.25h-2.24zM255.85 53.23h4.47v2.25h-4.47zM262.56 53.23h2.24v2.25h-2.24zM235.72 55.35h6.71v2.25h-6.71zM246.90 55.35h4.47v2.25h-4.47zM255.85 55.35h2.24v2.25h-2.24zM260.32 55.35h2.24v2.25h-2.24zM264.79 55.35h2.24v2.25h-2.24zM233.49 57.48h4.47v2.25h-4.47zM240.20 57.48h2.24v2.25h-2.24zM264.79 57.48h2.24v2.25h-2.24zM231.25 59.60h2.24v2.25h-2.24zM262.56 59.60h6.71v2.25h-6.71zM233.49 61.73h2.24v2.25h-2.24zM240.20 61.73h2.24v2.25h-2.24zM260.32 61.73h6.71v2.25h-6.71zM231.25 63.85h4.47v2.25h-4.47zM237.96 63.85h2.24v2.25h-2.24zM244.67 63.85h2.24v2.25h-2.24zM255.85 63.85h2.24v2.25h-2.24zM260.32 63.85h6.71v2.25h-6.71zM246.90 65.97h2.24v2.25h-2.24zM264.79 65.97h2.24v2.25h-2.24zM275.97 65.97h2.24v2.25h-2.24zM94.86 68.10h2.24v2.25h-2.24zM229.02 68.10h8.94v2.25h-8.94zM242.43 68.10h2.24v2.25h-2.24zM249.14 68.10h6.71v2.25h-6.71zM264.79 68.10h2.24v2.25h-2.24zM224.54 70.22h11.18v2.25h-11.18zM237.96 70.22h2.24v2.25h-2.24zM264.79 70.22h2.24v2.25h-2.24zM217.84 72.35h8.94v2.25h-8.94zM231.25 72.35h2.24v2.25h-2.24zM237.96 72.35h4.47v2.25h-4.47zM260.32 72.35h4.47v2.25h-4.47zM284.92 72.35h2.24v2.25h-2.24zM217.84 74.47h2.24v2.25h-2.24zM222.31 74.47h6.71v2.25h-6.71zM235.72 74.47h2.24v2.25h-2.24zM240.20 74.47h6.71v2.25h-6.71zM253.61 74.47h2.24v2.25h-2.24zM260.32 74.47h2.24v2.25h-2.24zM211.13 76.60h2.24v2.25h-2.24zM220.07 76.60h2.24v2.25h-2.24zM224.54 76.60h2.24v2.25h-2.24zM242.43 76.60h2.24v2.25h-2.24zM251.38 76.60h4.47v2.25h-4.47zM211.13 78.72h6.71v2.25h-6.71zM224.54 78.72h2.24v2.25h-2.24zM233.49 78.72h4.47v2.25h-4.47zM251.38 78.72h2.24v2.25h-2.24zM166.41 80.85h2.24v2.25h-2.24zM213.36 80.85h4.47v2.25h-4.47zM220.07 80.85h2.24v2.25h-2.24zM229.02 80.85h2.24v2.25h-2.24zM159.70 82.97h2.24v2.25h-2.24zM217.84 82.97h2.24v2.25h-2.24zM226.78 82.97h2.24v2.25h-2.24zM231.25 82.97h4.47v2.25h-4.47zM166.41 85.10h6.71v2.25h-6.71zM175.35 85.10h2.24v2.25h-2.24zM199.95 85.10h8.94v2.25h-8.94zM213.36 85.10h4.47v2.25h-4.47zM220.07 85.10h2.24v2.25h-2.24zM226.78 85.10h4.47v2.25h-4.47zM233.49 85.10h2.24v2.25h-2.24zM237.96 85.10h2.24v2.25h-2.24zM246.90 85.10h2.24v2.25h-2.24zM164.17 87.22h8.94v2.25h-8.94zM175.35 87.22h6.71v2.25h-6.71zM184.30 87.22h2.24v2.25h-2.24zM193.24 87.22h6.71v2.25h-6.71zM206.66 87.22h13.42v2.25h-13.42zM222.31 87.22h2.24v2.25h-2.24zM233.49 87.22h11.18v2.25h-11.18zM246.90 87.22h2.24v2.25h-2.24zM166.41 89.35h15.65v2.25h-15.65zM186.53 89.35h11.18v2.25h-11.18zM202.18 89.35h2.24v2.25h-2.24zM224.54 89.35h2.24v2.25h-2.24zM233.49 89.35h6.71v2.25h-6.71zM251.38 89.35h4.47v2.25h-4.47zM166.41 91.47h2.24v2.25h-2.24zM170.88 91.47h2.24v2.25h-2.24zM177.59 91.47h2.24v2.25h-2.24zM188.77 91.47h4.47v2.25h-4.47zM202.18 91.47h2.24v2.25h-2.24zM229.02 91.47h2.24v2.25h-2.24zM237.96 91.47h4.47v2.25h-4.47zM253.61 91.47h2.24v2.25h-2.24zM182.06 93.60h2.24v2.25h-2.24zM191.00 93.60h2.24v2.25h-2.24zM202.18 93.60h2.24v2.25h-2.24zM208.89 93.60h2.24v2.25h-2.24zM226.78 93.60h2.24v2.25h-2.24zM237.96 93.60h2.24v2.25h-2.24zM242.43 93.60h2.24v2.25h-2.24zM253.61 93.60h2.24v2.25h-2.24zM159.70 95.72h2.24v2.25h-2.24zM179.82 95.72h2.24v2.25h-2.24zM184.30 95.72h2.24v2.25h-2.24zM202.18 95.72h4.47v2.25h-4.47zM224.54 95.72h2.24v2.25h-2.24zM235.72 95.72h6.71v2.25h-6.71zM244.67 95.72h2.24v2.25h-2.24zM146.28 97.85h2.24v2.25h-2.24zM188.77 97.85h6.71v2.25h-6.71zM197.71 97.85h2.24v2.25h-2.24zM222.31 97.85h2.24v2.25h-2.24zM233.49 97.85h4.47v2.25h-4.47zM244.67 97.85h4.47v2.25h-4.47zM251.38 97.85h2.24v2.25h-2.24zM150.76 99.97h2.24v2.25h-2.24zM170.88 99.97h2.24v2.25h-2.24zM222.31 99.97h2.24v2.25h-2.24zM233.49 99.97h2.24v2.25h-2.24zM126.16 102.10h2.24v2.25h-2.24zM155.23 102.10h2.24v2.25h-2.24zM184.30 102.10h2.24v2.25h-2.24zM229.02 104.22h4.47v2.25h-4.47zM150.76 106.35h2.24v2.25h-2.24zM141.81 110.60h2.24v2.25h-2.24zM182.06 110.60h2.24v2.25h-2.24zM128.40 112.72h2.24v2.25h-2.24zM139.58 112.72h2.24v2.25h-2.24zM179.82 112.72h2.24v2.25h-2.24zM202.18 112.72h2.24v2.25h-2.24zM114.98 114.85h8.94v2.25h-8.94zM226.78 114.85h2.24v2.25h-2.24zM110.51 116.97h2.24v2.25h-2.24zM193.24 116.97h2.24v2.25h-2.24zM123.92 119.10h4.47v2.25h-4.47zM161.94 119.10h2.24v2.25h-2.24zM195.48 119.10h2.24v2.25h-2.24zM231.25 119.10h2.24v2.25h-2.24zM103.80 121.22h2.24v2.25h-2.24zM123.92 121.22h2.24v2.25h-2.24zM197.71 121.22h4.47v2.25h-4.47zM251.38 121.22h2.24v2.25h-2.24zM106.04 123.35h2.24v2.25h-2.24zM110.51 123.35h2.24v2.25h-2.24zM117.22 123.35h2.24v2.25h-2.24zM211.13 123.35h2.24v2.25h-2.24zM112.74 125.47h8.94v2.25h-8.94zM202.18 125.47h4.47v2.25h-4.47zM233.49 125.47h2.24v2.25h-2.24zM197.71 127.60h2.24v2.25h-2.24zM222.31 127.60h2.24v2.25h-2.24zM233.49 127.60h4.47v2.25h-4.47zM235.72 129.72h2.24v2.25h-2.24zM164.17 131.85h2.24v2.25h-2.24zM168.64 133.97h2.24v2.25h-2.24zM166.41 136.10h11.18v2.25h-11.18zM168.64 138.22h4.47v2.25h-4.47zM175.35 138.22h2.24v2.25h-2.24zM197.71 138.22h2.24v2.25h-2.24zM168.64 140.35h8.94v2.25h-8.94zM197.71 140.35h2.24v2.25h-2.24zM206.66 140.35h2.24v2.25h-2.24zM168.64 142.47h2.24v2.25h-2.24zM173.12 142.47h2.24v2.25h-2.24zM177.59 142.47h2.24v2.25h-2.24zM170.88 144.60h8.94v2.25h-8.94zM188.77 144.60h2.24v2.25h-2.24zM195.48 144.60h2.24v2.25h-2.24zM220.07 144.60h2.24v2.25h-2.24zM224.54 144.60h2.24v2.25h-2.24zM170.88 146.72h4.47v2.25h-4.47zM177.59 146.72h4.47v2.25h-4.47zM188.77 146.72h2.24v2.25h-2.24zM215.60 146.72h6.71v2.25h-6.71zM224.54 146.72h2.24v2.25h-2.24zM177.59 148.85h2.24v2.25h-2.24zM182.06 148.85h2.24v2.25h-2.24zM213.36 148.85h2.24v2.25h-2.24zM217.84 148.85h2.24v2.25h-2.24zM179.82 150.97h2.24v2.25h-2.24zM211.13 150.97h4.47v2.25h-4.47zM226.78 153.10h2.24v2.25h-2.24zM211.13 163.72h2.24v2.25h-2.24zM215.60 163.72h4.47v2.25h-4.47zM208.89 165.85h2.24v2.25h-2.24zM217.84 165.85h2.24v2.25h-2.24zM211.13 167.97h6.71v2.25h-6.71z"/>
<path fill="#f2dcb5" d="M275.97 21.35h2.24v2.25h-2.24zM271.50 23.48h2.24v2.25h-2.24zM282.68 23.48h2.24v2.25h-2.24zM275.97 25.60h2.24v2.25h-2.24zM282.68 25.60h2.24v2.25h-2.24zM260.32 27.73h2.24v2.25h-2.24zM275.97 27.73h2.24v2.25h-2.24zM280.44 27.73h4.47v2.25h-4.47zM258.08 29.85h6.71v2.25h-6.71zM278.21 29.85h4.47v2.25h-4.47zM287.15 29.85h2.24v2.25h-2.24zM255.85 31.98h4.47v2.25h-4.47zM262.56 31.98h2.24v2.25h-2.24zM273.74 31.98h2.24v2.25h-2.24zM278.21 31.98h2.24v2.25h-2.24zM253.61 34.10h8.94v2.25h-8.94zM273.74 34.10h4.47v2.25h-4.47zM287.15 34.10h2.24v2.25h-2.24zM291.62 34.10h2.24v2.25h-2.24zM255.85 36.23h6.71v2.25h-6.71zM110.51 38.35h4.47v2.25h-4.47zM242.43 38.35h2.24v2.25h-2.24zM260.32 38.35h2.24v2.25h-2.24zM289.39 38.35h2.24v2.25h-2.24zM293.86 38.35h2.24v2.25h-2.24zM106.04 40.48h2.24v2.25h-2.24zM112.74 40.48h4.47v2.25h-4.47zM240.20 40.48h4.47v2.25h-4.47zM260.32 40.48h2.24v2.25h-2.24zM273.74 40.48h2.24v2.25h-2.24zM291.62 40.48h2.24v2.25h-2.24zM106.04 42.60h4.47v2.25h-4.47zM112.74 42.60h8.94v2.25h-8.94zM262.56 42.60h2.24v2.25h-2.24zM273.74 42.60h2.24v2.25h-2.24zM293.86 42.60h2.24v2.25h-2.24zM305.04 42.60h2.24v2.25h-2.24zM322.93 42.60h2.24v2.25h-2.24zM103.80 44.73h4.47v2.25h-4.47zM112.74 44.73h2.24v2.25h-2.24zM117.22 44.73h2.24v2.25h-2.24zM121.69 44.73h4.47v2.25h-4.47zM262.56 44.73h2.24v2.25h-2.24zM275.97 44.73h2.24v2.25h-2.24zM298.33 44.73h8.94v2.25h-8.94zM97.09 46.85h31.30v2.25h-31.30zM262.56 46.85h2.24v2.25h-2.24zM305.04 46.85h2.24v2.25h-2.24zM92.62 48.98h2.24v2.25h-2.24zM99.33 48.98h4.47v2.25h-4.47zM123.92 48.98h2.24v2.25h-2.24zM128.40 48.98h2.24v2.25h-2.24zM246.90 48.98h2.24v2.25h-2.24zM260.32 48.98h4.47v2.25h-4.47zM269.26 48.98h2.24v2.25h-2.24zM280.44 48.98h2.24v2.25h-2.24zM92.62 51.10h2.24v2.25h-2.24zM99.33 51.10h4.47v2.25h-4.47zM237.96 51.10h6.71v2.25h-6.71zM264.79 51.10h8.94v2.25h-8.94zM275.97 51.10h2.24v2.25h-2.24zM280.44 51.10h2.24v2.25h-2.24zM92.62 53.23h2.24v2.25h-2.24zM99.33 53.23h2.24v2.25h-2.24zM231.25 53.23h11.18v2.25h-11.18zM253.61 53.23h2.24v2.25h-2.24zM264.79 53.23h4.47v2.25h-4.47zM278.21 53.23h2.24v2.25h-2.24zM316.22 53.23h2.24v2.25h-2.24zM88.15 55.35h2.24v2.25h-2.24zM94.86 55.35h4.47v2.25h-4.47zM224.54 55.35h11.18v2.25h-11.18zM242.43 55.35h2.24v2.25h-2.24zM251.38 55.35h4.47v2.25h-4.47zM267.03 55.35h4.47v2.25h-4.47zM278.21 55.35h2.24v2.25h-2.24zM282.68 55.35h2.24v2.25h-2.24zM222.31 57.48h11.18v2.25h-11.18zM267.03 57.48h2.24v2.25h-2.24zM284.92 57.48h2.24v2.25h-2.24zM99.33 59.60h4.47v2.25h-4.47zM117.22 59.60h11.18v2.25h-11.18zM224.54 59.60h6.71v2.25h-6.71zM233.49 59.60h2.24v2.25h-2.24zM269.26 59.60h4.47v2.25h-4.47zM287.15 59.60h2.24v2.25h-2.24zM97.09 61.73h11.18v2.25h-11.18zM123.92 61.73h2.24v2.25h-2.24zM222.31 61.73h11.18v2.25h-11.18zM267.03 61.73h2.24v2.25h-2.24zM289.39 61.73h2.24v2.25h-2.24zM97.09 63.85h11.18v2.25h-11.18zM220.07 63.85h11.18v2.25h-11.18zM267.03 63.85h2.24v2.25h-2.24zM291.62 63.85h2.24v2.25h-2.24zM97.09 65.97h11.18v2.25h-11.18zM215.60 65.97h17.89v2.25h-17.89zM267.03 65.97h4.47v2.25h-4.47zM83.68 68.10h2.24v2.25h-2.24zM97.09 68.10h2.24v2.25h-2.24zM211.13 68.10h2.24v2.25h-2.24zM215.60 68.10h13.42v2.25h-13.42zM267.03 68.10h2.24v2.25h-2.24zM278.21 68.10h4.47v2.25h-4.47zM106.04 70.22h2.24v2.25h-2.24zM206.66 70.22h2.24v2.25h-2.24zM211.13 70.22h13.42v2.25h-13.42zM275.97 70.22h4.47v2.25h-4.47zM202.18 72.35h2.24v2.25h-2.24zM206.66 72.35h11.18v2.25h-11.18zM246.90 72.35h2.24v2.25h-2.24zM264.79 72.35h2.24v2.25h-2.24zM202.18 74.47h15.65v2.25h-15.65zM258.08 74.47h2.24v2.25h-2.24zM199.95 76.60h11.18v2.25h-11.18zM213.36 76.60h6.71v2.25h-6.71zM222.31 76.60h2.24v2.25h-2.24zM226.78 76.60h2.24v2.25h-2.24zM240.20 76.60h2.24v2.25h-2.24zM199.95 78.72h11.18v2.25h-11.18zM217.84 78.72h2.24v2.25h-2.24zM161.94 80.85h2.24v2.25h-2.24zM195.48 80.85h2.24v2.25h-2.24zM199.95 80.85h13.42v2.25h-13.42zM217.84 80.85h2.24v2.25h-2.24zM222.31 80.85h2.24v2.25h-2.24zM161.94 82.97h13.42v2.25h-13.42zM199.95 82.97h17.89v2.25h-17.89zM222.31 82.97h2.24v2.25h-2.24zM157.46 85.10h8.94v2.25h-8.94zM173.12 85.10h2.24v2.25h-2.24zM177.59 85.10h4.47v2.25h-4.47zM191.00 85.10h8.94v2.25h-8.94zM208.89 85.10h4.47v2.25h-4.47zM217.84 85.10h2.24v2.25h-2.24zM222.31 85.10h4.47v2.25h-4.47zM231.25 85.10h2.24v2.25h-2.24zM242.43 85.10h2.24v2.25h-2.24zM157.46 87.22h6.71v2.25h-6.71zM173.12 87.22h2.24v2.25h-2.24zM182.06 87.22h2.24v2.25h-2.24zM186.53 87.22h6.71v2.25h-6.71zM220.07 87.22h2.24v2.25h-2.24zM224.54 87.22h8.94v2.25h-8.94zM159.70 89.35h6.71v2.25h-6.71zM182.06 89.35h4.47v2.25h-4.47zM215.60 89.35h8.94v2.25h-8.94zM226.78 89.35h6.71v2.25h-6.71zM255.85 89.35h6.71v2.25h-6.71zM264.79 89.35h2.24v2.25h-2.24zM159.70 91.47h6.71v2.25h-6.71zM168.64 91.47h2.24v2.25h-2.24zM173.12 91.47h4.47v2.25h-4.47zM179.82 91.47h8.94v2.25h-8.94zM197.71 91.47h2.24v2.25h-2.24zM215.60 91.47h13.42v2.25h-13.42zM244.67 91.47h2.24v2.25h-2.24zM255.85 91.47h8.94v2.25h-8.94zM152.99 93.60h2.24v2.25h-2.24zM159.70 93.60h2.24v2.25h-2.24zM164.17 93.60h17.89v2.25h-17.89zM186.53 93.60h2.24v2.25h-2.24zM197.71 93.60h2.24v2.25h-2.24zM211.13 93.60h15.65v2.25h-15.65zM255.85 93.60h2.24v2.25h-2.24zM144.05 95.72h11.18v2.25h-11.18zM161.94 95.72h4.47v2.25h-4.47zM168.64 95.72h11.18v2.25h-11.18zM182.06 95.72h2.24v2.25h-2.24zM186.53 95.72h2.24v2.25h-2.24zM199.95 95.72h2.24v2.25h-2.24zM206.66 95.72h17.89v2.25h-17.89zM242.43 95.72h2.24v2.25h-2.24zM253.61 95.72h2.24v2.25h-2.24zM141.81 97.85h4.47v2.25h-4.47zM148.52 97.85h22.36v2.25h-22.36zM173.12 97.85h2.24v2.25h-2.24zM179.82 97.85h8.94v2.25h-8.94zM199.95 97.85h22.36v2.25h-22.36zM237.96 97.85h6.71v2.25h-6.71zM253.61 97.85h2.24v2.25h-2.24zM126.16 99.97h6.71v2.25h-6.71zM139.58 99.97h11.18v2.25h-11.18zM152.99 99.97h6.71v2.25h-6.71zM161.94 99.97h8.94v2.25h-8.94zM173.12 99.97h2.24v2.25h-2.24zM177.59 99.97h2.24v2.25h-2.24zM184.30 99.97h38.01v2.25h-38.01zM235.72 99.97h4.47v2.25h-4.47zM246.90 99.97h2.24v2.25h-2.24zM128.40 102.10h4.47v2.25h-4.47zM135.10 102.10h11.18v2.25h-11.18zM148.52 102.10h6.71v2.25h-6.71zM157.46 102.10h15.65v2.25h-15.65zM177.59 102.10h2.24v2.25h-2.24zM182.06 102.10h2.24v2.25h-2.24zM186.53 102.10h2.24v2.25h-2.24zM197.71 102.10h2.24v2.25h-2.24zM202.18 102.10h13.42v2.25h-13.42zM217.84 102.10h6.71v2.25h-6.71zM233.49 102.10h4.47v2.25h-4.47zM126.16 104.22h6.71v2.25h-6.71zM135.10 104.22h8.94v2.25h-8.94zM148.52 104.22h11.18v2.25h-11.18zM164.17 104.22h4.47v2.25h-4.47zM175.35 104.22h4.47v2.25h-4.47zM182.06 104.22h2.24v2.25h-2.24zM197.71 104.22h2.24v2.25h-2.24zM206.66 104.22h2.24v2.25h-2.24zM220.07 104.22h4.47v2.25h-4.47zM246.90 104.22h2.24v2.25h-2.24zM255.85 104.22h2.24v2.25h-2.24zM99.33 106.35h4.47v2.25h-4.47zM126.16 106.35h2.24v2.25h-2.24zM130.63 106.35h2.24v2.25h-2.24zM137.34 106.35h4.47v2.25h-4.47zM155.23 106.35h4.47v2.25h-4.47zM179.82 106.35h6.71v2.25h-6.71zM195.48 106.35h2.24v2.25h-2.24zM222.31 106.35h8.94v2.25h-8.94zM235.72 106.35h4.47v2.25h-4.47zM244.67 106.35h6.71v2.25h-6.71zM121.69 108.47h4.47v2.25h-4.47zM137.34 108.47h6.71v2.25h-6.71zM148.52 108.47h2.24v2.25h-2.24zM166.41 108.47h2.24v2.25h-2.24zM179.82 108.47h2.24v2.25h-2.24zM184.30 108.47h2.24v2.25h-2.24zM197.71 108.47h4.47v2.25h-4.47zM208.89 108.47h2.24v2.25h-2.24zM222.31 108.47h2.24v2.25h-2.24zM237.96 108.47h2.24v2.25h-2.24zM123.92 110.60h2.24v2.25h-2.24zM130.63 110.60h11.18v2.25h-11.18zM155.23 110.60h2.24v2.25h-2.24zM161.94 110.60h2.24v2.25h-2.24zM179.82 110.60h2.24v2.25h-2.24zM231.25 110.60h2.24v2.25h-2.24zM235.72 110.60h2.24v2.25h-2.24zM112.74 112.72h2.24v2.25h-2.24zM132.87 112.72h6.71v2.25h-6.71zM141.81 112.72h2.24v2.25h-2.24zM146.28 112.72h4.47v2.25h-4.47zM155.23 112.72h2.24v2.25h-2.24zM161.94 112.72h4.47v2.25h-4.47zM170.88 112.72h8.94v2.25h-8.94zM182.06 112.72h2.24v2.25h-2.24zM204.42 112.72h4.47v2.25h-4.47zM222.31 112.72h2.24v2.25h-2.24zM229.02 112.72h2.24v2.25h-2.24zM233.49 112.72h6.71v2.25h-6.71zM249.14 112.72h2.24v2.25h-2.24zM76.97 114.85h2.24v2.25h-2.24zM83.68 114.85h2.24v2.25h-2.24zM112.74 114.85h2.24v2.25h-2.24zM123.92 114.85h6.71v2.25h-6.71zM132.87 114.85h8.94v2.25h-8.94zM173.12 114.85h2.24v2.25h-2.24zM179.82 114.85h11.18v2.25h-11.18zM193.24 114.85h6.71v2.25h-6.71zM204.42 114.85h2.24v2.25h-2.24zM213.36 114.85h2.24v2.25h-2.24zM231.25 114.85h13.42v2.25h-13.42zM108.27 116.97h2.24v2.25h-2.24zM114.98 116.97h4.47v2.25h-4.47zM126.16 116.97h6.71v2.25h-6.71zM135.10 116.97h2.24v2.25h-2.24zM157.46 116.97h2.24v2.25h-2.24zM164.17 116.97h2.24v2.25h-2.24zM168.64 116.97h2.24v2.25h-2.24zM179.82 116.97h13.42v2.25h-13.42zM195.48 116.97h11.18v2.25h-11.18zM211.13 116.97h2.24v2.25h-2.24zM215.60 116.97h2.24v2.25h-2.24zM220.07 116.97h2.24v2.25h-2.24zM226.78 116.97h2.24v2.25h-2.24zM231.25 116.97h2.24v2.25h-2.24zM235.72 116.97h4.47v2.25h-4.47zM242.43 116.97h2.24v2.25h-2.24zM255.85 116.97h2.24v2.25h-2.24zM101.56 119.10h4.47v2.25h-4.47zM121.69 119.10h2.24v2.25h-2.24zM128.40 119.10h2.24v2.25h-2.24zM159.70 119.10h2.24v2.25h-2.24zM164.17 119.10h2.24v2.25h-2.24zM168.64 119.10h2.24v2.25h-2.24zM182.06 119.10h13.42v2.25h-13.42zM197.71 119.10h8.94v2.25h-8.94zM211.13 119.10h4.47v2.25h-4.47zM235.72 119.10h4.47v2.25h-4.47zM253.61 119.10h8.94v2.25h-8.94zM101.56 121.22h2.24v2.25h-2.24zM119.45 121.22h4.47v2.25h-4.47zM126.16 121.22h4.47v2.25h-4.47zM161.94 121.22h4.47v2.25h-4.47zM168.64 121.22h2.24v2.25h-2.24zM177.59 121.22h20.12v2.25h-20.12zM202.18 121.22h6.71v2.25h-6.71zM211.13 121.22h2.24v2.25h-2.24zM235.72 121.22h2.24v2.25h-2.24zM244.67 121.22h2.24v2.25h-2.24zM258.08 121.22h2.24v2.25h-2.24zM103.80 123.35h2.24v2.25h-2.24zM119.45 123.35h8.94v2.25h-8.94zM152.99 123.35h2.24v2.25h-2.24zM159.70 123.35h6.71v2.25h-6.71zM182.06 123.35h2.24v2.25h-2.24zM186.53 123.35h22.36v2.25h-22.36zM213.36 123.35h2.24v2.25h-2.24zM222.31 123.35h2.24v2.25h-2.24zM231.25 123.35h6.71v2.25h-6.71zM242.43 123.35h2.24v2.25h-2.24zM246.90 123.35h2.24v2.25h-2.24zM103.80 125.47h2.24v2.25h-2.24zM108.27 125.47h4.47v2.25h-4.47zM121.69 125.47h2.24v2.25h-2.24zM135.10 125.47h4.47v2.25h-4.47zM152.99 125.47h2.24v2.25h-2.24zM157.46 125.47h4.47v2.25h-4.47zM170.88 125.47h2.24v2.25h-2.24zM182.06 125.47h2.24v2.25h-2.24zM186.53 125.47h15.65v2.25h-15.65zM206.66 125.47h6.71v2.25h-6.71zM215.60 125.47h2.24v2.25h-2.24zM226.78 125.47h6.71v2.25h-6.71zM235.72 125.47h4.47v2.25h-4.47zM249.14 125.47h2.24v2.25h-2.24zM253.61 125.47h4.47v2.25h-4.47zM114.98 127.60h6.71v2.25h-6.71zM130.63 127.60h2.24v2.25h-2.24zM152.99 127.60h4.47v2.25h-4.47zM170.88 127.60h2.24v2.25h-2.24zM177.59 127.60h2.24v2.25h-2.24zM186.53 127.60h11.18v2.25h-11.18zM199.95 127.60h13.42v2.25h-13.42zM217.84 127.60h2.24v2.25h-2.24zM224.54 127.60h2.24v2.25h-2.24zM229.02 127.60h4.47v2.25h-4.47zM237.96 127.60h2.24v2.25h-2.24zM253.61 127.60h4.47v2.25h-4.47zM141.81 129.72h2.24v2.25h-2.24zM166.41 129.72h2.24v2.25h-2.24zM170.88 129.72h8.94v2.25h-8.94zM184.30 129.72h4.47v2.25h-4.47zM191.00 129.72h22.36v2.25h-22.36zM222.31 129.72h2.24v2.25h-2.24zM226.78 129.72h8.94v2.25h-8.94zM237.96 129.72h4.47v2.25h-4.47zM251.38 129.72h4.47v2.25h-4.47zM135.10 131.85h2.24v2.25h-2.24zM139.58 131.85h2.24v2.25h-2.24zM166.41 131.85h20.12v2.25h-20.12zM193.24 131.85h22.36v2.25h-22.36zM226.78 131.85h15.65v2.25h-15.65zM249.14 131.85h2.24v2.25h-2.24zM164.17 133.97h4.47v2.25h-4.47zM170.88 133.97h6.71v2.25h-6.71zM182.06 133.97h2.24v2.25h-2.24zM191.00 133.97h2.24v2.25h-2.24zM195.48 133.97h17.89v2.25h-17.89zM222.31 133.97h2.24v2.25h-2.24zM229.02 133.97h13.42v2.25h-13.42zM164.17 136.10h2.24v2.25h-2.24zM177.59 136.10h4.47v2.25h-4.47zM188.77 136.10h22.36v2.25h-22.36zM215.60 136.10h2.24v2.25h-2.24zM222.31 136.10h4.47v2.25h-4.47zM229.02 136.10h6.71v2.25h-6.71zM255.85 136.10h2.24v2.25h-2.24zM164.17 138.22h4.47v2.25h-4.47zM173.12 138.22h2.24v2.25h-2.24zM177.59 138.22h2.24v2.25h-2.24zM184.30 138.22h6.71v2.25h-6.71zM193.24 138.22h4.47v2.25h-4.47zM199.95 138.22h11.18v2.25h-11.18zM215.60 138.22h4.47v2.25h-4.47zM224.54 138.22h8.94v2.25h-8.94zM249.14 138.22h2.24v2.25h-2.24zM164.17 140.35h4.47v2.25h-4.47zM177.59 140.35h4.47v2.25h-4.47zM184.30 140.35h13.42v2.25h-13.42zM199.95 140.35h6.71v2.25h-6.71zM208.89 140.35h2.24v2.25h-2.24zM213.36 140.35h2.24v2.25h-2.24zM220.07 140.35h15.65v2.25h-15.65zM249.14 140.35h2.24v2.25h-2.24zM164.17 142.47h4.47v2.25h-4.47zM175.35 142.47h2.24v2.25h-2.24zM179.82 142.47h2.24v2.25h-2.24zM184.30 142.47h31.30v2.25h-31.30zM217.84 142.47h15.65v2.25h-15.65zM244.67 142.47h4.47v2.25h-4.47zM166.41 144.60h4.47v2.25h-4.47zM179.82 144.60h8.94v2.25h-8.94zM191.00 144.60h4.47v2.25h-4.47zM197.71 144.60h22.36v2.25h-22.36zM226.78 144.60h4.47v2.25h-4.47zM235.72 144.60h2.24v2.25h-2.24zM244.67 144.60h2.24v2.25h-2.24zM161.94 146.72h4.47v2.25h-4.47zM168.64 146.72h2.24v2.25h-2.24zM182.06 146.72h6.71v2.25h-6.71zM191.00 146.72h24.60v2.25h-24.60zM226.78 146.72h2.24v2.25h-2.24zM242.43 146.72h2.24v2.25h-2.24zM170.88 148.85h6.71v2.25h-6.71zM179.82 148.85h2.24v2.25h-2.24zM184.30 148.85h15.65v2.25h-15.65zM202.18 148.85h11.18v2.25h-11.18zM215.60 148.85h2.24v2.25h-2.24zM220.07 148.85h6.71v2.25h-6.71zM233.49 148.85h2.24v2.25h-2.24zM173.12 150.97h6.71v2.25h-6.71zM182.06 150.97h4.47v2.25h-4.47zM199.95 150.97h2.24v2.25h-2.24zM206.66 150.97h4.47v2.25h-4.47zM217.84 150.97h4.47v2.25h-4.47zM224.54 150.97h4.47v2.25h-4.47zM233.49 150.97h2.24v2.25h-2.24zM177.59 153.10h2.24v2.25h-2.24zM206.66 153.10h15.65v2.25h-15.65zM173.12 155.22h4.47v2.25h-4.47zM208.89 155.22h2.24v2.25h-2.24zM213.36 155.22h2.24v2.25h-2.24zM213.36 163.72h2.24v2.25h-2.24zM213.36 165.85h4.47v2.25h-4.47zM208.89 167.97h2.24v2.25h-2.24z"/>
<path fill="#d9edb4" d="M267.03 29.85h4.47v2.25h-4.47zM267.03 34.10h2.24v2.25h-2.24zM271.50 34.10h2.24v2.25h-2.24zM264.79 36.23h4.47v2.25h-4.47zM282.68 38.35h2.24v2.25h-2.24zM296.10 38.35h4.47v2.25h-4.47zM302.80 38.35h2.24v2.25h-2.24zM269.26 40.48h2.24v2.25h-2.24zM284.92 40.48h2.24v2.25h-2.24zM298.33 40.48h2.24v2.25h-2.24zM287.15 42.60h6.71v2.25h-6.71zM280.44 44.73h11.18v2.25h-11.18zM309.51 44.73h2.24v2.25h-2.24zM316.22 44.73h2.24v2.25h-2.24zM280.44 46.85h2.24v2.25h-2.24zM293.86 46.85h2.24v2.25h-2.24zM298.33 46.85h4.47v2.25h-4.47zM309.51 46.85h4.47v2.25h-4.47zM287.15 48.98h2.24v2.25h-2.24zM309.51 48.98h4.47v2.25h-4.47zM316.22 48.98h2.24v2.25h-2.24zM296.10 51.10h6.71v2.25h-6.71zM313.98 51.10h2.24v2.25h-2.24zM289.39 53.23h2.24v2.25h-2.24zM296.10 53.23h4.47v2.25h-4.47zM309.51 53.23h2.24v2.25h-2.24zM106.04 55.35h2.24v2.25h-2.24zM302.80 55.35h4.47v2.25h-4.47zM117.22 57.48h2.24v2.25h-2.24zM278.21 57.48h2.24v2.25h-2.24zM293.86 57.48h2.24v2.25h-2.24zM300.57 57.48h4.47v2.25h-4.47zM296.10 59.60h2.24v2.25h-2.24zM302.80 59.60h4.47v2.25h-4.47zM298.33 61.73h2.24v2.25h-2.24zM302.80 61.73h4.47v2.25h-4.47zM289.39 63.85h2.24v2.25h-2.24zM298.33 63.85h2.24v2.25h-2.24zM305.04 63.85h2.24v2.25h-2.24zM291.62 65.97h2.24v2.25h-2.24zM296.10 65.97h2.24v2.25h-2.24zM300.57 65.97h4.47v2.25h-4.47zM284.92 68.10h2.24v2.25h-2.24zM296.10 68.10h2.24v2.25h-2.24zM269.26 70.22h2.24v2.25h-2.24zM289.39 70.22h2.24v2.25h-2.24zM275.97 74.47h2.24v2.25h-2.24zM240.20 104.22h2.24v2.25h-2.24zM253.61 106.35h2.24v2.25h-2.24zM258.08 106.35h2.24v2.25h-2.24zM106.04 110.60h2.24v2.25h-2.24zM150.76 110.60h2.24v2.25h-2.24zM246.90 110.60h2.24v2.25h-2.24zM246.90 112.72h2.24v2.25h-2.24zM92.62 116.97h2.24v2.25h-2.24zM97.09 116.97h2.24v2.25h-2.24zM150.76 116.97h2.24v2.25h-2.24zM92.62 121.22h2.24v2.25h-2.24zM164.17 127.60h2.24v2.25h-2.24z"/>
<path fill="#bfe090" d="M269.26 31.98h2.24v2.25h-2.24zM267.03 38.35h2.24v2.25h-2.24zM271.50 38.35h2.24v2.25h-2.24zM282.68 40.48h2.24v2.25h-2.24zM282.68 42.60h4.47v2.25h-4.47zM318.46 42.60h2.24v2.25h-2.24zM282.68 46.85h2.24v2.25h-2.24zM316.22 46.85h4.47v2.25h-4.47zM284.92 48.98h2.24v2.25h-2.24zM298.33 48.98h4.47v2.25h-4.47zM287.15 51.10h2.24v2.25h-2.24zM302.80 51.10h2.24v2.25h-2.24zM302.80 53.23h4.47v2.25h-4.47zM287.15 55.35h4.47v2.25h-4.47zM296.10 55.35h2.24v2.25h-2.24zM298.33 57.48h2.24v2.25h-2.24zM293.86 59.60h2.24v2.25h-2.24zM298.33 59.60h2.24v2.25h-2.24zM296.10 63.85h2.24v2.25h-2.24zM287.15 65.97h2.24v2.25h-2.24zM298.33 65.97h2.24v2.25h-2.24zM291.62 68.10h4.47v2.25h-4.47zM291.62 70.22h2.24v2.25h-2.24zM164.17 125.47h2.24v2.25h-2.24z"/>
<path fill="#a3d26e" d="M269.26 38.35h2.24v2.25h-2.24zM267.03 40.48h2.24v2.25h-2.24zM320.69 42.60h2.24v2.25h-2.24zM320.69 44.73h2.24v2.25h-2.24zM289.39 46.85h2.24v2.25h-2.24zM291.62 59.60h2.24v2.25h-2.24zM300.57 59.60h2.24v2.25h-2.24zM291.62 61.73h4.47v2.25h-4.47zM289.39 65.97h2.24v2.25h-2.24z"/>
<path fill="#84c048" d="M269.26 34.10h2.24v2.25h-2.24zM253.61 108.47h2.24v2.25h-2.24z"/>
<path fill="#5aa832" d="M269.26 36.23h2.24v2.25h-2.24z"/>
</g>
<use href="#line"/><use href="#inset"/><use href="#mtick"/>
</g>
<g font-size="6.9">
<text x="42.6" y="38.0" text-anchor="end">50°N</text>
<text x="42.6" y="80.5" text-anchor="end">40°N</text>
<text x="42.6" y="123.0" text-anchor="end">30°N</text>
<text x="42.6" y="165.5" text-anchor="end">20°N</text>
<text x="58.0" y="195.3" text-anchor="middle">75°E</text>
<text x="125.1" y="195.3" text-anchor="middle">90°E</text>
<text x="192.2" y="195.3" text-anchor="middle">105°E</text>
<text x="259.3" y="195.3" text-anchor="middle">120°E</text>
<text x="326.8" y="195.3" text-anchor="middle">135°E</text>
<text x="373.1" y="38.9" text-anchor="end">50°N</text>
<text x="373.1" y="81.4" text-anchor="end">40°N</text>
<text x="373.1" y="123.9" text-anchor="end">30°N</text>
<text x="373.1" y="166.4" text-anchor="end">20°N</text>
<text x="388.5" y="195.3" text-anchor="middle">75°E</text>
<text x="455.6" y="195.3" text-anchor="middle">90°E</text>
<text x="522.7" y="195.3" text-anchor="middle">105°E</text>
<text x="589.8" y="195.3" text-anchor="middle">120°E</text>
<text x="657.3" y="195.3" text-anchor="middle">135°E</text>
</g>
<text x="188" y="9.5" font-size="8.4" font-weight="bold" text-anchor="middle">GPP</text>
<text x="522" y="9.5" font-size="8.4" font-weight="bold" text-anchor="middle">SIF</text>
<text x="18" y="7.6" font-size="8.6" font-weight="bold">a</text>
<text x="349" y="8.4" font-size="8.6" font-weight="bold">b</text>
<text x="188.3" y="204.9" font-size="6.75" text-anchor="middle" textLength="193.6" lengthAdjust="spacingAndGlyphs">Composite GPP anomalies during soil-based CDHEs (g m<tspan font-size="4.2" dy="-2.4">−2</tspan><tspan dy="2.4"> d</tspan><tspan font-size="4.2" dy="-2.4">−1</tspan><tspan dy="2.4">)</tspan></text>
<text x="519.3" y="204.9" font-size="6.75" text-anchor="middle" textLength="215.4" lengthAdjust="spacingAndGlyphs">Composite SIF anomalies during soil-based CDHEs (mW m<tspan font-size="4.2" dy="-2.4">−2</tspan><tspan dy="2.4"> nm</tspan><tspan font-size="4.2" dy="-2.4">−1</tspan><tspan dy="2.4"> sr</tspan><tspan font-size="4.2" dy="-2.4">−1</tspan><tspan dy="2.4">)</tspan></text>
<g shape-rendering="crispEdges">
<rect x="47.70" y="207.10" width="12.79" height="5.60" fill="#610404"/>
<rect x="60.44" y="207.10" width="12.79" height="5.60" fill="#6d0505"/>
<rect x="73.18" y="207.10" width="12.79" height="5.60" fill="#7b0404"/>
<rect x="85.92" y="207.10" width="12.79" height="5.60" fill="#840505"/>
<rect x="98.66" y="207.10" width="12.79" height="5.60" fill="#9a2610"/>
<rect x="111.40" y="207.10" width="12.79" height="5.60" fill="#b1541f"/>
<rect x="124.15" y="207.10" width="12.79" height="5.60" fill="#c57a32"/>
<rect x="136.89" y="207.10" width="12.79" height="5.60" fill="#d69a5a"/>
<rect x="149.63" y="207.10" width="12.79" height="5.60" fill="#e3b888"/>
<rect x="162.37" y="207.10" width="12.79" height="5.60" fill="#f2dcb5"/>
<rect x="175.11" y="207.10" width="12.79" height="5.60" fill="#ffffff"/>
<rect x="187.85" y="207.10" width="12.79" height="5.60" fill="#ffffff"/>
<rect x="200.59" y="207.10" width="12.79" height="5.60" fill="#d9edb4"/>
<rect x="213.33" y="207.10" width="12.79" height="5.60" fill="#bfe090"/>
<rect x="226.07" y="207.10" width="12.79" height="5.60" fill="#a3d26e"/>
<rect x="238.81" y="207.10" width="12.79" height="5.60" fill="#84c048"/>
<rect x="251.55" y="207.10" width="12.79" height="5.60" fill="#5aa832"/>
<rect x="264.30" y="207.10" width="12.79" height="5.60" fill="#2f921f"/>
<rect x="277.04" y="207.10" width="12.79" height="5.60" fill="#158014"/>
<rect x="289.78" y="207.10" width="12.79" height="5.60" fill="#0e7210"/>
<rect x="302.52" y="207.10" width="12.79" height="5.60" fill="#0a660e"/>
<rect x="315.26" y="207.10" width="12.79" height="5.60" fill="#085a0c"/>
</g>
<path d="M60.44 207.10v5.60M73.18 207.10v5.60M85.92 207.10v5.60M98.66 207.10v5.60M111.40 207.10v5.60M124.15 207.10v5.60M136.89 207.10v5.60M149.63 207.10v5.60M162.37 207.10v5.60M175.11 207.10v5.60M187.85 207.10v5.60M200.59 207.10v5.60M213.33 207.10v5.60M226.07 207.10v5.60M238.81 207.10v5.60M251.55 207.10v5.60M264.30 207.10v5.60M277.04 207.10v5.60M289.78 207.10v5.60M302.52 207.10v5.60M315.26 207.10v5.60" stroke="#222" stroke-width="0.45" fill="none"/>
<rect x="47.70" y="207.10" width="280.30" height="5.60" fill="none" stroke="#222" stroke-width="0.5"/>
<g font-size="5.1" text-anchor="middle">
<text transform="translate(60.7 218.2) rotate(-30)" y="1.8">-2</text>
<text transform="translate(73.5 218.2) rotate(-30)" y="1.8">-1.8</text>
<text transform="translate(86.2 218.2) rotate(-30)" y="1.8">-1.6</text>
<text transform="translate(99.0 218.2) rotate(-30)" y="1.8">-1.4</text>
<text transform="translate(111.7 218.2) rotate(-30)" y="1.8">-1.2</text>
<text transform="translate(124.4 218.2) rotate(-30)" y="1.8">-1</text>
<text transform="translate(137.2 218.2) rotate(-30)" y="1.8">-0.8</text>
<text transform="translate(149.9 218.2) rotate(-30)" y="1.8">-0.6</text>
<text transform="translate(162.7 218.2) rotate(-30)" y="1.8">-0.4</text>
<text transform="translate(175.4 218.2) rotate(-30)" y="1.8">-0.2</text>
<text transform="translate(188.2 218.2) rotate(-30)" y="1.8">0</text>
<text transform="translate(200.9 218.2) rotate(-30)" y="1.8">0.2</text>
<text transform="translate(213.6 218.2) rotate(-30)" y="1.8">0.4</text>
<text transform="translate(226.4 218.2) rotate(-30)" y="1.8">0.6</text>
<text transform="translate(239.1 218.2) rotate(-30)" y="1.8">0.8</text>
<text transform="translate(251.9 218.2) rotate(-30)" y="1.8">1</text>
<text transform="translate(264.6 218.2) rotate(-30)" y="1.8">1.2</text>
<text transform="translate(277.3 218.2) rotate(-30)" y="1.8">1.4</text>
<text transform="translate(290.1 218.2) rotate(-30)" y="1.8">1.6</text>
<text transform="translate(302.8 218.2) rotate(-30)" y="1.8">1.8</text>
<text transform="translate(315.6 218.2) rotate(-30)" y="1.8">2</text>
</g>
<g shape-rendering="crispEdges">
<rect x="378.20" y="207.10" width="12.81" height="5.60" fill="#610404"/>
<rect x="390.96" y="207.10" width="12.81" height="5.60" fill="#6d0505"/>
<rect x="403.73" y="207.10" width="12.81" height="5.60" fill="#7b0404"/>
<rect x="416.49" y="207.10" width="12.81" height="5.60" fill="#840505"/>
<rect x="429.25" y="207.10" width="12.81" height="5.60" fill="#9a2610"/>
<rect x="442.02" y="207.10" width="12.81" height="5.60" fill="#b1541f"/>
<rect x="454.78" y="207.10" width="12.81" height="5.60" fill="#c57a32"/>
<rect x="467.55" y="207.10" width="12.81" height="5.60" fill="#d69a5a"/>
<rect x="480.31" y="207.10" width="12.81" height="5.60" fill="#e3b888"/>
<rect x="493.07" y="207.10" width="12.81" height="5.60" fill="#f2dcb5"/>
<rect x="505.84" y="207.10" width="12.81" height="5.60" fill="#ffffff"/>
<rect x="518.60" y="207.10" width="12.81" height="5.60" fill="#ffffff"/>
<rect x="531.36" y="207.10" width="12.81" height="5.60" fill="#d9edb4"/>
<rect x="544.13" y="207.10" width="12.81" height="5.60" fill="#bfe090"/>
<rect x="556.89" y="207.10" width="12.81" height="5.60" fill="#a3d26e"/>
<rect x="569.65" y="207.10" width="12.81" height="5.60" fill="#84c048"/>
<rect x="582.42" y="207.10" width="12.81" height="5.60" fill="#5aa832"/>
<rect x="595.18" y="207.10" width="12.81" height="5.60" fill="#2f921f"/>
<rect x="607.95" y="207.10" width="12.81" height="5.60" fill="#158014"/>
<rect x="620.71" y="207.10" width="12.81" height="5.60" fill="#0e7210"/>
<rect x="633.47" y="207.10" width="12.81" height="5.60" fill="#0a660e"/>
<rect x="646.24" y="207.10" width="12.81" height="5.60" fill="#085a0c"/>
</g>
<path d="M390.96 207.10v5.60M403.73 207.10v5.60M416.49 207.10v5.60M429.25 207.10v5.60M442.02 207.10v5.60M454.78 207.10v5.60M467.55 207.10v5.60M480.31 207.10v5.60M493.07 207.10v5.60M505.84 207.10v5.60M518.60 207.10v5.60M531.36 207.10v5.60M544.13 207.10v5.60M556.89 207.10v5.60M569.65 207.10v5.60M582.42 207.10v5.60M595.18 207.10v5.60M607.95 207.10v5.60M620.71 207.10v5.60M633.47 207.10v5.60M646.24 207.10v5.60" stroke="#222" stroke-width="0.45" fill="none"/>
<rect x="378.20" y="207.10" width="280.80" height="5.60" fill="none" stroke="#222" stroke-width="0.5"/>
<g font-size="5.1" text-anchor="middle">
<text transform="translate(391.3 218.2) rotate(-30)" y="1.8">-0.1</text>
<text transform="translate(404.0 218.2) rotate(-30)" y="1.8">-0.09</text>
<text transform="translate(416.8 218.2) rotate(-30)" y="1.8">-0.08</text>
<text transform="translate(429.6 218.2) rotate(-30)" y="1.8">-0.07</text>
<text transform="translate(442.3 218.2) rotate(-30)" y="1.8">-0.06</text>
<text transform="translate(455.1 218.2) rotate(-30)" y="1.8">-0.05</text>
<text transform="translate(467.8 218.2) rotate(-30)" y="1.8">-0.04</text>
<text transform="translate(480.6 218.2) rotate(-30)" y="1.8">-0.03</text>
<text transform="translate(493.4 218.2) rotate(-30)" y="1.8">-0.02</text>
<text transform="translate(506.1 218.2) rotate(-30)" y="1.8">-0.01</text>
<text transform="translate(518.9 218.2) rotate(-30)" y="1.8">0</text>
<text transform="translate(531.7 218.2) rotate(-30)" y="1.8">0.01</text>
<text transform="translate(544.4 218.2) rotate(-30)" y="1.8">0.02</text>
<text transform="translate(557.2 218.2) rotate(-30)" y="1.8">0.03</text>
<text transform="translate(570.0 218.2) rotate(-30)" y="1.8">0.04</text>
<text transform="translate(582.7 218.2) rotate(-30)" y="1.8">0.05</text>
<text transform="translate(595.5 218.2) rotate(-30)" y="1.8">0.06</text>
<text transform="translate(608.2 218.2) rotate(-30)" y="1.8">0.07</text>
<text transform="translate(621.0 218.2) rotate(-30)" y="1.8">0.08</text>
<text transform="translate(633.8 218.2) rotate(-30)" y="1.8">0.09</text>
<text transform="translate(646.5 218.2) rotate(-30)" y="1.8">0.1</text>
</g>
<rect x="27.30" y="247.40" width="166.90" height="155.80" fill="#fff" stroke="#8a8a8a" stroke-width="0.8"/>
<g shape-rendering="crispEdges">
<rect x="27.90" y="248.80" width="16.51" height="15.41" fill="#bfe88e"/>
<rect x="44.31" y="248.80" width="147.79" height="15.41" fill="#98fba6"/>
<rect x="27.90" y="264.11" width="32.92" height="15.41" fill="#76f9be"/>
<rect x="60.72" y="264.11" width="131.38" height="15.41" fill="#98fba6"/>
<rect x="27.90" y="279.42" width="16.51" height="15.41" fill="#22d2e0"/>
<rect x="44.31" y="279.42" width="16.51" height="15.41" fill="#4aedd2"/>
<rect x="60.72" y="279.42" width="32.92" height="15.41" fill="#76f9be"/>
<rect x="93.54" y="279.42" width="98.56" height="15.41" fill="#98fba6"/>
<rect x="27.90" y="294.73" width="16.51" height="15.41" fill="#0ea5ea"/>
<rect x="44.31" y="294.73" width="16.51" height="15.41" fill="#22d2e0"/>
<rect x="60.72" y="294.73" width="32.92" height="15.41" fill="#4aedd2"/>
<rect x="93.54" y="294.73" width="32.92" height="15.41" fill="#76f9be"/>
<rect x="126.36" y="294.73" width="65.74" height="15.41" fill="#98fba6"/>
<rect x="27.90" y="310.04" width="16.51" height="15.41" fill="#3278f5"/>
<rect x="44.31" y="310.04" width="16.51" height="15.41" fill="#0ea5ea"/>
<rect x="60.72" y="310.04" width="16.51" height="15.41" fill="#22d2e0"/>
<rect x="77.13" y="310.04" width="32.92" height="15.41" fill="#4aedd2"/>
<rect x="109.95" y="310.04" width="32.92" height="15.41" fill="#76f9be"/>
<rect x="142.77" y="310.04" width="49.33" height="15.41" fill="#98fba6"/>
<rect x="27.90" y="325.35" width="16.51" height="15.41" fill="#3278f5"/>
<rect x="44.31" y="325.35" width="32.92" height="15.41" fill="#0ea5ea"/>
<rect x="77.13" y="325.35" width="32.92" height="15.41" fill="#22d2e0"/>
<rect x="109.95" y="325.35" width="16.51" height="15.41" fill="#4aedd2"/>
<rect x="126.36" y="325.35" width="32.92" height="15.41" fill="#76f9be"/>
<rect x="159.18" y="325.35" width="16.51" height="15.41" fill="#98fba6"/>
<rect x="175.59" y="325.35" width="16.51" height="15.41" fill="#bfe88e"/>
<rect x="27.90" y="340.66" width="32.92" height="15.41" fill="#3278f5"/>
<rect x="60.72" y="340.66" width="32.92" height="15.41" fill="#0ea5ea"/>
<rect x="93.54" y="340.66" width="16.51" height="15.41" fill="#22d2e0"/>
<rect x="109.95" y="340.66" width="32.92" height="15.41" fill="#4aedd2"/>
<rect x="142.77" y="340.66" width="16.51" height="15.41" fill="#76f9be"/>
<rect x="159.18" y="340.66" width="16.51" height="15.41" fill="#98fba6"/>
<rect x="175.59" y="340.66" width="16.51" height="15.41" fill="#bfe88e"/>
<rect x="27.90" y="355.97" width="16.51" height="15.41" fill="#5a3cf8"/>
<rect x="44.31" y="355.97" width="32.92" height="15.41" fill="#3278f5"/>
<rect x="77.13" y="355.97" width="16.51" height="15.41" fill="#0ea5ea"/>
<rect x="93.54" y="355.97" width="32.92" height="15.41" fill="#22d2e0"/>
<rect x="126.36" y="355.97" width="16.51" height="15.41" fill="#4aedd2"/>
<rect x="142.77" y="355.97" width="16.51" height="15.41" fill="#76f9be"/>
<rect x="159.18" y="355.97" width="16.51" height="15.41" fill="#98fba6"/>
<rect x="175.59" y="355.97" width="16.51" height="15.41" fill="#e3cd78"/>
<rect x="27.90" y="371.28" width="16.51" height="15.41" fill="#5a3cf8"/>
<rect x="44.31" y="371.28" width="32.92" height="15.41" fill="#3278f5"/>
<rect x="77.13" y="371.28" width="32.92" height="15.41" fill="#0ea5ea"/>
<rect x="109.95" y="371.28" width="16.51" height="15.41" fill="#22d2e0"/>
<rect x="126.36" y="371.28" width="16.51" height="15.41" fill="#4aedd2"/>
<rect x="142.77" y="371.28" width="16.51" height="15.41" fill="#76f9be"/>
<rect x="159.18" y="371.28" width="16.51" height="15.41" fill="#98fba6"/>
<rect x="175.59" y="371.28" width="16.51" height="15.41" fill="#fea85c"/>
<rect x="27.90" y="386.59" width="16.51" height="15.41" fill="#5a3cf8"/>
<rect x="44.31" y="386.59" width="49.33" height="15.41" fill="#3278f5"/>
<rect x="93.54" y="386.59" width="16.51" height="15.41" fill="#0ea5ea"/>
<rect x="109.95" y="386.59" width="16.51" height="15.41" fill="#22d2e0"/>
<rect x="126.36" y="386.59" width="16.51" height="15.41" fill="#4aedd2"/>
<rect x="142.77" y="386.59" width="16.51" height="15.41" fill="#76f9be"/>
<rect x="159.18" y="386.59" width="16.51" height="15.41" fill="#98fba6"/>
<rect x="175.59" y="386.59" width="16.51" height="15.41" fill="#fc3c1e"/>
</g>
<rect x="176.09" y="386.49" width="16.31" height="14.91" fill="none" stroke="#e01208" stroke-width="1"/>
<path d="M27.30 401.90h1.6M27.60 403.20v-1.6M27.30 371.28h1.6M60.72 403.20v-1.6M27.30 340.66h1.6M93.54 403.20v-1.6M27.30 310.04h1.6M126.36 403.20v-1.6M27.30 279.42h1.6M159.18 403.20v-1.6M27.30 249.10h1.6M192.00 403.20v-1.6" stroke="#333" stroke-width="0.6" fill="none"/>
<g font-size="5.75">
<text x="22.7" y="403.9" text-anchor="end">0</text>
<text x="28.5" y="410.4" text-anchor="middle">0</text>
<text x="22.7" y="373.3" text-anchor="end">20</text>
<text x="60.7" y="410.4" text-anchor="middle">20</text>
<text x="22.7" y="342.7" text-anchor="end">40</text>
<text x="93.5" y="410.4" text-anchor="middle">40</text>
<text x="22.7" y="312.1" text-anchor="end">60</text>
<text x="126.4" y="410.4" text-anchor="middle">60</text>
<text x="22.7" y="281.5" text-anchor="end">80</text>
<text x="159.2" y="410.4" text-anchor="middle">80</text>
<text x="22.7" y="251.2" text-anchor="end">100</text>
<text x="192.0" y="410.4" text-anchor="middle">100</text>
</g>
<g stroke="#222" stroke-width="0.7" fill="none">
<path d="M12.0 317.0V256.5M9.8 259.1l2.2 -2.7l2.2 2.7"/>
<path d="M12.0 337.6V400.3M9.8 397.7l2.2 2.7l2.2 -2.7"/>
<path d="M97.4 412.2H29.5M32.1 410.0l-2.7 2.2l2.7 2.2"/>
<path d="M119.9 412.2H187.9M185.3 410.0l2.7 2.2l-2.7 2.2"/>
</g>
<g font-size="6.4" text-anchor="middle">
<text transform="translate(10.0 266.0) rotate(-90)">wet</text>
<text transform="translate(9.6 391.7) rotate(-90)">dry</text>
<text transform="translate(5.8 325.7) rotate(-90)" font-size="6.3">Soil moisture (percentiles)</text>
<text x="41.8" y="418.2" font-size="6.6">cold</text>
<text x="176.3" y="418.2" font-size="6.6">hot</text>
<text x="110.8" y="420.1" font-size="6.6">Soil temperature (percentiles)</text>
</g>
<g shape-rendering="crispEdges">
<rect x="202.50" y="392.61" width="5.10" height="10.34" fill="#8000ff"/>
<rect x="202.50" y="382.31" width="5.10" height="10.34" fill="#5c38fd"/>
<rect x="202.50" y="372.02" width="5.10" height="10.34" fill="#386df9"/>
<rect x="202.50" y="361.73" width="5.10" height="10.34" fill="#149df1"/>
<rect x="202.50" y="351.43" width="5.10" height="10.34" fill="#12c8e6"/>
<rect x="202.50" y="341.14" width="5.10" height="10.34" fill="#37e6d8"/>
<rect x="202.50" y="330.85" width="5.10" height="10.34" fill="#5af8c8"/>
<rect x="202.50" y="320.55" width="5.10" height="10.34" fill="#80ffb4"/>
<rect x="202.50" y="310.26" width="5.10" height="10.34" fill="#a4f89f"/>
<rect x="202.50" y="299.97" width="5.10" height="10.34" fill="#c8e688"/>
<rect x="202.50" y="289.67" width="5.10" height="10.34" fill="#ecc86f"/>
<rect x="202.50" y="279.38" width="5.10" height="10.34" fill="#ff9d53"/>
<rect x="202.50" y="269.09" width="5.10" height="10.34" fill="#ff6d38"/>
<rect x="202.50" y="258.79" width="5.10" height="10.34" fill="#ff381c"/>
<rect x="202.50" y="248.50" width="5.10" height="10.34" fill="#ff0000"/>
</g>
<path d="M202.50 392.61h5.10M202.50 382.31h5.10M202.50 372.02h5.10M202.50 361.73h5.10M202.50 351.43h5.10M202.50 341.14h5.10M202.50 330.85h5.10M202.50 320.55h5.10M202.50 310.26h5.10M202.50 299.97h5.10M202.50 289.67h5.10M202.50 279.38h5.10M202.50 269.09h5.10M202.50 258.79h5.10" stroke="#222" stroke-width="0.4" fill="none"/>
<rect x="202.50" y="248.50" width="5.10" height="154.40" fill="none" stroke="#222" stroke-width="0.45"/>
<g font-size="5.0">
<text x="212.3" y="394.9" text-anchor="middle">0</text>
<text x="212.3" y="384.6" text-anchor="middle">0.2</text>
<text x="212.3" y="374.3" text-anchor="middle">0.4</text>
<text x="212.3" y="364.0" text-anchor="middle">0.6</text>
<text x="212.3" y="353.7" text-anchor="middle">0.8</text>
<text x="212.3" y="343.4" text-anchor="middle">1</text>
<text x="212.3" y="333.1" text-anchor="middle">1.2</text>
<text x="212.3" y="322.9" text-anchor="middle">1.4</text>
<text x="212.3" y="312.6" text-anchor="middle">1.6</text>
<text x="212.3" y="302.3" text-anchor="middle">1.8</text>
<text x="212.3" y="292.0" text-anchor="middle">2</text>
<text x="212.3" y="281.7" text-anchor="middle">2.2</text>
<text x="212.3" y="271.4" text-anchor="middle">2.4</text>
<text x="212.3" y="261.1" text-anchor="middle">2.6</text>
</g>
<text transform="translate(221.3 325.4) rotate(-90)" font-size="5.3" text-anchor="middle">Probability (%)</text>
<rect x="258.40" y="248.60" width="162.30" height="154.90" fill="#fff" stroke="#8a8a8a" stroke-width="0.8"/>
<g shape-rendering="crispEdges">
<rect x="307.77" y="250.00" width="79.55" height="15.33" fill="#d9edb4"/>
<rect x="387.22" y="250.00" width="31.88" height="15.33" fill="#bfe090"/>
<rect x="323.66" y="265.23" width="31.88" height="15.33" fill="#bfe090"/>
<rect x="355.44" y="265.23" width="15.99" height="15.33" fill="#d9edb4"/>
<rect x="371.33" y="265.23" width="47.77" height="15.33" fill="#bfe090"/>
<rect x="260.10" y="280.46" width="15.99" height="15.33" fill="#f2dcb5"/>
<rect x="323.66" y="280.46" width="15.99" height="15.33" fill="#d9edb4"/>
<rect x="339.55" y="280.46" width="79.55" height="15.33" fill="#bfe090"/>
<rect x="260.10" y="295.69" width="15.99" height="15.33" fill="#e3b888"/>
<rect x="323.66" y="295.69" width="31.88" height="15.33" fill="#d9edb4"/>
<rect x="355.44" y="295.69" width="63.66" height="15.33" fill="#bfe090"/>
<rect x="260.10" y="310.92" width="31.88" height="15.33" fill="#f2dcb5"/>
<rect x="339.55" y="310.92" width="31.88" height="15.33" fill="#d9edb4"/>
<rect x="371.33" y="310.92" width="47.77" height="15.33" fill="#bfe090"/>
<rect x="260.10" y="326.15" width="15.99" height="15.33" fill="#f2dcb5"/>
<rect x="275.99" y="326.15" width="15.99" height="15.33" fill="#e3b888"/>
<rect x="291.88" y="326.15" width="15.99" height="15.33" fill="#f2dcb5"/>
<rect x="371.33" y="326.15" width="47.77" height="15.33" fill="#d9edb4"/>
<rect x="260.10" y="341.38" width="15.99" height="15.33" fill="#e3b888"/>
<rect x="275.99" y="341.38" width="15.99" height="15.33" fill="#d69a5a"/>
<rect x="291.88" y="341.38" width="31.88" height="15.33" fill="#f2dcb5"/>
<rect x="260.10" y="356.61" width="15.99" height="15.33" fill="#e3b888"/>
<rect x="275.99" y="356.61" width="31.88" height="15.33" fill="#d69a5a"/>
<rect x="307.77" y="356.61" width="79.55" height="15.33" fill="#f2dcb5"/>
<rect x="403.11" y="356.61" width="15.99" height="15.33" fill="#f2dcb5"/>
<rect x="260.10" y="371.84" width="15.99" height="15.33" fill="#e3b888"/>
<rect x="275.99" y="371.84" width="143.11" height="15.33" fill="#d69a5a"/>
<rect x="260.10" y="387.07" width="15.99" height="15.33" fill="#9a2610"/>
<rect x="275.99" y="387.07" width="31.88" height="15.33" fill="#c57a32"/>
<rect x="307.77" y="387.07" width="47.77" height="15.33" fill="#b1541f"/>
<rect x="355.44" y="387.07" width="31.88" height="15.33" fill="#7b0404"/>
<rect x="387.22" y="387.07" width="15.99" height="15.33" fill="#6d0505"/>
<rect x="403.11" y="387.07" width="15.99" height="15.33" fill="#610404"/>
</g>
<rect x="403.61" y="386.97" width="15.79" height="14.83" fill="none" stroke="#e2161a" stroke-width="1"/>
<path d="M258.40 402.30h1.6M259.80 403.50v-1.6M258.40 371.84h1.6M291.88 403.50v-1.6M258.40 341.38h1.6M323.66 403.50v-1.6M258.40 310.92h1.6M355.44 403.50v-1.6M258.40 280.46h1.6M387.22 403.50v-1.6M258.40 250.30h1.6M419.00 403.50v-1.6" stroke="#333" stroke-width="0.6" fill="none"/>
<g font-size="5.75">
<text x="254.9" y="404.4" text-anchor="end">0</text>
<text x="260.7" y="410.8" text-anchor="middle">0</text>
<text x="254.9" y="373.9" text-anchor="end">20</text>
<text x="291.9" y="410.8" text-anchor="middle">20</text>
<text x="254.9" y="343.4" text-anchor="end">40</text>
<text x="323.7" y="410.8" text-anchor="middle">40</text>
<text x="254.9" y="313.0" text-anchor="end">60</text>
<text x="355.4" y="410.8" text-anchor="middle">60</text>
<text x="254.9" y="282.5" text-anchor="end">80</text>
<text x="387.2" y="410.8" text-anchor="middle">80</text>
<text x="254.9" y="252.4" text-anchor="end">100</text>
<text x="419.0" y="410.8" text-anchor="middle">100</text>
</g>
<g stroke="#222" stroke-width="0.7" fill="none">
<path d="M243.6 316.3V254.7M241.4 257.3l2.2 -2.7l2.2 2.7"/>
<path d="M243.6 338.3V401.7M241.4 399.1l2.2 2.7l2.2 -2.7"/>
<path d="M328.4 412.5H261.7M264.3 410.3l-2.7 2.2l2.7 2.2"/>
<path d="M349.9 412.5H415.6M413.0 410.3l2.7 2.2l-2.7 2.2"/>
</g>
<g font-size="6.4" text-anchor="middle">
<text transform="translate(242.2 263.8) rotate(-90)">wet</text>
<text transform="translate(240.5 393.5) rotate(-90)">dry</text>
<text transform="translate(237.6 326.2) rotate(-90)" font-size="6.3">Soil moisture (percentiles)</text>
<text x="273.2" y="421.4" font-size="6.6">cold</text>
<text x="407.0" y="421.4" font-size="6.6">hot</text>
<text x="339.8" y="420.1" font-size="6.6">Soil temperature (percentiles)</text>
</g>
<g shape-rendering="crispEdges">
<rect x="429.00" y="396.12" width="4.90" height="7.03" fill="#610404"/>
<rect x="429.00" y="389.14" width="4.90" height="7.03" fill="#6d0505"/>
<rect x="429.00" y="382.15" width="4.90" height="7.03" fill="#7b0404"/>
<rect x="429.00" y="375.17" width="4.90" height="7.03" fill="#840505"/>
<rect x="429.00" y="368.19" width="4.90" height="7.03" fill="#9a2610"/>
<rect x="429.00" y="361.21" width="4.90" height="7.03" fill="#b1541f"/>
<rect x="429.00" y="354.23" width="4.90" height="7.03" fill="#c57a32"/>
<rect x="429.00" y="347.25" width="4.90" height="7.03" fill="#d69a5a"/>
<rect x="429.00" y="340.26" width="4.90" height="7.03" fill="#e3b888"/>
<rect x="429.00" y="333.28" width="4.90" height="7.03" fill="#f2dcb5"/>
<rect x="429.00" y="326.30" width="4.90" height="7.03" fill="#ffffff"/>
<rect x="429.00" y="319.32" width="4.90" height="7.03" fill="#ffffff"/>
<rect x="429.00" y="312.34" width="4.90" height="7.03" fill="#d9edb4"/>
<rect x="429.00" y="305.35" width="4.90" height="7.03" fill="#bfe090"/>
<rect x="429.00" y="298.37" width="4.90" height="7.03" fill="#a3d26e"/>
<rect x="429.00" y="291.39" width="4.90" height="7.03" fill="#84c048"/>
<rect x="429.00" y="284.41" width="4.90" height="7.03" fill="#5aa832"/>
<rect x="429.00" y="277.43" width="4.90" height="7.03" fill="#2f921f"/>
<rect x="429.00" y="270.45" width="4.90" height="7.03" fill="#158014"/>
<rect x="429.00" y="263.46" width="4.90" height="7.03" fill="#0e7210"/>
<rect x="429.00" y="256.48" width="4.90" height="7.03" fill="#0a660e"/>
<rect x="429.00" y="249.50" width="4.90" height="7.03" fill="#085a0c"/>
</g>
<path d="M429.00 396.12h4.90M429.00 389.14h4.90M429.00 382.15h4.90M429.00 375.17h4.90M429.00 368.19h4.90M429.00 361.21h4.90M429.00 354.23h4.90M429.00 347.25h4.90M429.00 340.26h4.90M429.00 333.28h4.90M429.00 326.30h4.90M429.00 319.32h4.90M429.00 312.34h4.90M429.00 305.35h4.90M429.00 298.37h4.90M429.00 291.39h4.90M429.00 284.41h4.90M429.00 277.43h4.90M429.00 270.45h4.90M429.00 263.46h4.90M429.00 256.48h4.90" stroke="#222" stroke-width="0.4" fill="none"/>
<rect x="429.00" y="249.50" width="4.90" height="153.60" fill="none" stroke="#222" stroke-width="0.45"/>
<g font-size="4.5">
<text x="440.3" y="398.1" text-anchor="middle">-0.2</text>
<text x="440.3" y="391.2" text-anchor="middle">-0.18</text>
<text x="440.3" y="384.2" text-anchor="middle">-0.16</text>
<text x="440.3" y="377.2" text-anchor="middle">-0.14</text>
<text x="440.3" y="370.2" text-anchor="middle">-0.12</text>
<text x="440.3" y="363.2" text-anchor="middle">-0.1</text>
<text x="440.3" y="356.2" text-anchor="middle">-0.08</text>
<text x="440.3" y="349.3" text-anchor="middle">-0.06</text>
<text x="440.3" y="342.3" text-anchor="middle">-0.04</text>
<text x="440.3" y="335.3" text-anchor="middle">-0.02</text>
<text x="440.3" y="328.3" text-anchor="middle">0</text>
<text x="440.3" y="321.3" text-anchor="middle">0.02</text>
<text x="440.3" y="314.4" text-anchor="middle">0.04</text>
<text x="440.3" y="307.4" text-anchor="middle">0.06</text>
<text x="440.3" y="300.4" text-anchor="middle">0.08</text>
<text x="440.3" y="293.4" text-anchor="middle">0.1</text>
<text x="440.3" y="286.4" text-anchor="middle">0.12</text>
<text x="440.3" y="279.4" text-anchor="middle">0.14</text>
<text x="440.3" y="272.5" text-anchor="middle">0.16</text>
<text x="440.3" y="265.5" text-anchor="middle">0.18</text>
<text x="440.3" y="258.5" text-anchor="middle">0.2</text>
</g>
<text transform="translate(451.7 325.6) rotate(-90)" font-size="5.3" text-anchor="middle" textLength="103.4" lengthAdjust="spacingAndGlyphs">Mean composite GPP anomalies (g m<tspan font-size="3.6" dy="-1.9">−2</tspan><tspan dy="1.9"> d</tspan><tspan font-size="3.6" dy="-1.9">−1</tspan><tspan dy="1.9">)</tspan></text>
<rect x="488.40" y="248.60" width="162.30" height="154.90" fill="#fff" stroke="#8a8a8a" stroke-width="0.8"/>
<g shape-rendering="crispEdges">
<rect x="505.99" y="250.00" width="15.99" height="15.33" fill="#d9edb4"/>
<rect x="521.88" y="250.00" width="15.99" height="15.33" fill="#bfe090"/>
<rect x="537.77" y="250.00" width="111.33" height="15.33" fill="#a3d26e"/>
<rect x="521.88" y="265.23" width="15.99" height="15.33" fill="#d9edb4"/>
<rect x="537.77" y="265.23" width="15.99" height="15.33" fill="#bfe090"/>
<rect x="553.66" y="265.23" width="95.44" height="15.33" fill="#a3d26e"/>
<rect x="490.10" y="280.46" width="15.99" height="15.33" fill="#f2dcb5"/>
<rect x="521.88" y="280.46" width="31.88" height="15.33" fill="#d9edb4"/>
<rect x="553.66" y="280.46" width="31.88" height="15.33" fill="#bfe090"/>
<rect x="585.44" y="280.46" width="47.77" height="15.33" fill="#a3d26e"/>
<rect x="633.11" y="280.46" width="15.99" height="15.33" fill="#bfe090"/>
<rect x="490.10" y="295.69" width="15.99" height="15.33" fill="#f2dcb5"/>
<rect x="537.77" y="295.69" width="15.99" height="15.33" fill="#d9edb4"/>
<rect x="553.66" y="295.69" width="47.77" height="15.33" fill="#bfe090"/>
<rect x="601.33" y="295.69" width="15.99" height="15.33" fill="#a3d26e"/>
<rect x="617.22" y="295.69" width="31.88" height="15.33" fill="#bfe090"/>
<rect x="490.10" y="310.92" width="15.99" height="15.33" fill="#e3b888"/>
<rect x="505.99" y="310.92" width="15.99" height="15.33" fill="#f2dcb5"/>
<rect x="553.66" y="310.92" width="31.88" height="15.33" fill="#d9edb4"/>
<rect x="585.44" y="310.92" width="63.66" height="15.33" fill="#bfe090"/>
<rect x="490.10" y="326.15" width="31.88" height="15.33" fill="#e3b888"/>
<rect x="521.88" y="326.15" width="15.99" height="15.33" fill="#f2dcb5"/>
<rect x="601.33" y="326.15" width="47.77" height="15.33" fill="#d9edb4"/>
<rect x="490.10" y="341.38" width="31.88" height="15.33" fill="#d69a5a"/>
<rect x="521.88" y="341.38" width="31.88" height="15.33" fill="#f2dcb5"/>
<rect x="490.10" y="356.61" width="47.77" height="15.33" fill="#d69a5a"/>
<rect x="537.77" y="356.61" width="63.66" height="15.33" fill="#e3b888"/>
<rect x="601.33" y="356.61" width="31.88" height="15.33" fill="#f2dcb5"/>
<rect x="633.11" y="356.61" width="15.99" height="15.33" fill="#e3b888"/>
<rect x="490.10" y="371.84" width="143.11" height="15.33" fill="#c57a32"/>
<rect x="633.11" y="371.84" width="15.99" height="15.33" fill="#b1541f"/>
<rect x="490.10" y="387.07" width="15.99" height="15.33" fill="#7b0404"/>
<rect x="505.99" y="387.07" width="31.88" height="15.33" fill="#9a2610"/>
<rect x="537.77" y="387.07" width="47.77" height="15.33" fill="#7b0404"/>
<rect x="585.44" y="387.07" width="31.88" height="15.33" fill="#6d0505"/>
<rect x="617.22" y="387.07" width="31.88" height="15.33" fill="#610404"/>
</g>
<rect x="633.61" y="386.97" width="15.79" height="14.83" fill="none" stroke="#e2161a" stroke-width="1"/>
<path d="M488.40 402.30h1.6M489.80 403.50v-1.6M488.40 371.84h1.6M521.88 403.50v-1.6M488.40 341.38h1.6M553.66 403.50v-1.6M488.40 310.92h1.6M585.44 403.50v-1.6M488.40 280.46h1.6M617.22 403.50v-1.6M488.40 250.30h1.6M649.00 403.50v-1.6" stroke="#333" stroke-width="0.6" fill="none"/>
<g font-size="5.75">
<text x="484.9" y="404.4" text-anchor="end">0</text>
<text x="490.7" y="410.8" text-anchor="middle">0</text>
<text x="484.9" y="373.9" text-anchor="end">20</text>
<text x="521.9" y="410.8" text-anchor="middle">20</text>
<text x="484.9" y="343.4" text-anchor="end">40</text>
<text x="553.7" y="410.8" text-anchor="middle">40</text>
<text x="484.9" y="313.0" text-anchor="end">60</text>
<text x="585.4" y="410.8" text-anchor="middle">60</text>
<text x="484.9" y="282.5" text-anchor="end">80</text>
<text x="617.2" y="410.8" text-anchor="middle">80</text>
<text x="484.9" y="252.4" text-anchor="end">100</text>
<text x="649.0" y="410.8" text-anchor="middle">100</text>
</g>
<g stroke="#222" stroke-width="0.7" fill="none">
<path d="M473.6 316.3V254.7M471.4 257.3l2.2 -2.7l2.2 2.7"/>
<path d="M473.6 338.3V401.7M471.4 399.1l2.2 2.7l2.2 -2.7"/>
<path d="M558.4 412.5H491.7M494.3 410.3l-2.7 2.2l2.7 2.2"/>
<path d="M579.9 412.5H645.6M643.0 410.3l2.7 2.2l-2.7 2.2"/>
</g>
<g font-size="6.4" text-anchor="middle">
<text transform="translate(472.2 263.8) rotate(-90)">wet</text>
<text transform="translate(470.5 393.5) rotate(-90)">dry</text>
<text transform="translate(467.6 326.2) rotate(-90)" font-size="6.3">Soil moisture (percentiles)</text>
<text x="503.2" y="421.4" font-size="6.6">cold</text>
<text x="637.0" y="421.4" font-size="6.6">hot</text>
<text x="569.8" y="420.1" font-size="6.6">Soil temperature (percentiles)</text>
</g>
<g shape-rendering="crispEdges">
<rect x="658.90" y="396.12" width="4.90" height="7.03" fill="#610404"/>
<rect x="658.90" y="389.14" width="4.90" height="7.03" fill="#6d0505"/>
<rect x="658.90" y="382.15" width="4.90" height="7.03" fill="#7b0404"/>
<rect x="658.90" y="375.17" width="4.90" height="7.03" fill="#840505"/>
<rect x="658.90" y="368.19" width="4.90" height="7.03" fill="#9a2610"/>
<rect x="658.90" y="361.21" width="4.90" height="7.03" fill="#b1541f"/>
<rect x="658.90" y="354.23" width="4.90" height="7.03" fill="#c57a32"/>
<rect x="658.90" y="347.25" width="4.90" height="7.03" fill="#d69a5a"/>
<rect x="658.90" y="340.26" width="4.90" height="7.03" fill="#e3b888"/>
<rect x="658.90" y="333.28" width="4.90" height="7.03" fill="#f2dcb5"/>
<rect x="658.90" y="326.30" width="4.90" height="7.03" fill="#ffffff"/>
<rect x="658.90" y="319.32" width="4.90" height="7.03" fill="#ffffff"/>
<rect x="658.90" y="312.34" width="4.90" height="7.03" fill="#d9edb4"/>
<rect x="658.90" y="305.35" width="4.90" height="7.03" fill="#bfe090"/>
<rect x="658.90" y="298.37" width="4.90" height="7.03" fill="#a3d26e"/>
<rect x="658.90" y="291.39" width="4.90" height="7.03" fill="#84c048"/>
<rect x="658.90" y="284.41" width="4.90" height="7.03" fill="#5aa832"/>
<rect x="658.90" y="277.43" width="4.90" height="7.03" fill="#2f921f"/>
<rect x="658.90" y="270.45" width="4.90" height="7.03" fill="#158014"/>
<rect x="658.90" y="263.46" width="4.90" height="7.03" fill="#0e7210"/>
<rect x="658.90" y="256.48" width="4.90" height="7.03" fill="#0a660e"/>
<rect x="658.90" y="249.50" width="4.90" height="7.03" fill="#085a0c"/>
</g>
<path d="M658.90 396.12h4.90M658.90 389.14h4.90M658.90 382.15h4.90M658.90 375.17h4.90M658.90 368.19h4.90M658.90 361.21h4.90M658.90 354.23h4.90M658.90 347.25h4.90M658.90 340.26h4.90M658.90 333.28h4.90M658.90 326.30h4.90M658.90 319.32h4.90M658.90 312.34h4.90M658.90 305.35h4.90M658.90 298.37h4.90M658.90 291.39h4.90M658.90 284.41h4.90M658.90 277.43h4.90M658.90 270.45h4.90M658.90 263.46h4.90M658.90 256.48h4.90" stroke="#222" stroke-width="0.4" fill="none"/>
<rect x="658.90" y="249.50" width="4.90" height="153.60" fill="none" stroke="#222" stroke-width="0.45"/>
<g font-size="4.5">
<text x="671.5" y="398.1" text-anchor="middle">-0.01</text>
<text x="671.5" y="391.2" text-anchor="middle">-0.009</text>
<text x="671.5" y="384.2" text-anchor="middle">-0.008</text>
<text x="671.5" y="377.2" text-anchor="middle">-0.007</text>
<text x="671.5" y="370.2" text-anchor="middle">-0.006</text>
<text x="671.5" y="363.2" text-anchor="middle">-0.005</text>
<text x="671.5" y="356.2" text-anchor="middle">-0.004</text>
<text x="671.5" y="349.3" text-anchor="middle">-0.003</text>
<text x="671.5" y="342.3" text-anchor="middle">-0.002</text>
<text x="671.5" y="335.3" text-anchor="middle">-0.001</text>
<text x="671.5" y="328.3" text-anchor="middle">0</text>
<text x="671.5" y="321.3" text-anchor="middle">0.001</text>
<text x="671.5" y="314.4" text-anchor="middle">0.002</text>
<text x="671.5" y="307.4" text-anchor="middle">0.003</text>
<text x="671.5" y="300.4" text-anchor="middle">0.004</text>
<text x="671.5" y="293.4" text-anchor="middle">0.005</text>
<text x="671.5" y="286.4" text-anchor="middle">0.006</text>
<text x="671.5" y="279.4" text-anchor="middle">0.007</text>
<text x="671.5" y="272.5" text-anchor="middle">0.008</text>
<text x="671.5" y="265.5" text-anchor="middle">0.009</text>
<text x="671.5" y="258.5" text-anchor="middle">0.01</text>
</g>
<text transform="translate(683.4 324.9) rotate(-90)" font-size="5.3" text-anchor="middle" textLength="118.0" lengthAdjust="spacingAndGlyphs">Mean composite SIF anomalies (mW m<tspan font-size="3.6" dy="-1.9">−2</tspan><tspan dy="1.9"> nm</tspan><tspan font-size="3.6" dy="-1.9">−1</tspan><tspan dy="1.9"> sr</tspan><tspan font-size="3.6" dy="-1.9">−1</tspan><tspan dy="1.9">)</tspan></text>
<text x="10.4" y="243.6" font-size="8.6" font-weight="bold">c</text>
<text x="242.0" y="244.9" font-size="8.6" font-weight="bold">d</text>
<text x="472.9" y="244.9" font-size="8.6" font-weight="bold">e</text>
<text x="339.5" y="244.2" font-size="7.6" font-weight="bold" text-anchor="middle">GPP</text>
<text x="569.5" y="244.2" font-size="7.6" font-weight="bold" text-anchor="middle">SIF</text>
</svg>
</body></html>
